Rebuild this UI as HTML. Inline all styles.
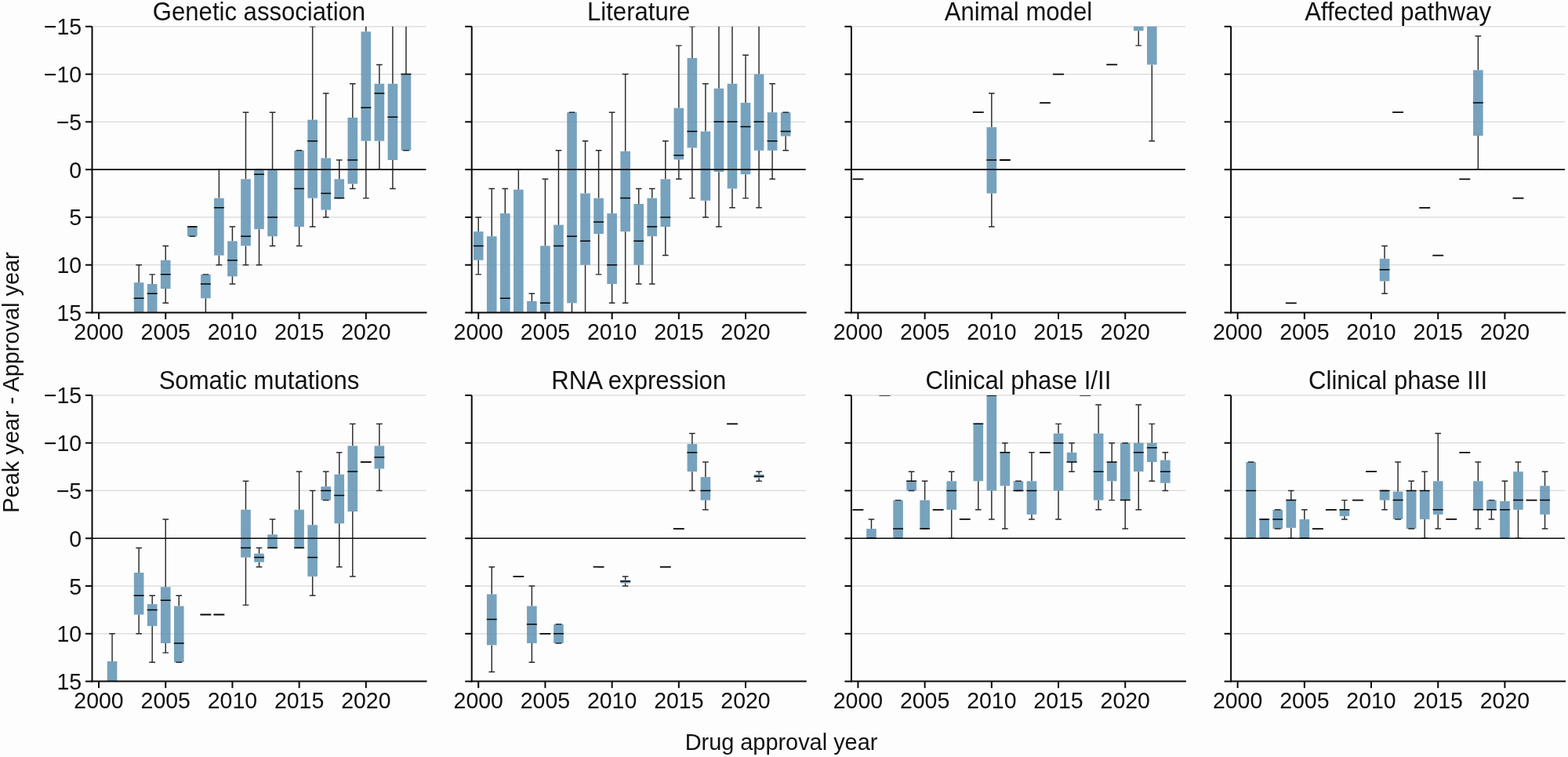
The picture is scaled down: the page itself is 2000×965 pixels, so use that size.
<!DOCTYPE html><html><head><meta charset="utf-8"><title>Peak year vs approval year</title>
<style>html,body{margin:0;padding:0;background:#fdfdfd;}svg{display:block;}text{font-family:'Liberation Sans', Arial, Helvetica, sans-serif;fill:#111111;}</style></head><body>
<svg width="2000" height="965" viewBox="0 0 2000 965">
<rect x="0" y="0" width="2000" height="965" fill="#fdfdfd"/>
<defs><clipPath id="c0"><rect x="117.5" y="33.8" width="426" height="364.7"/></clipPath><clipPath id="c1"><rect x="601.7" y="33.8" width="426" height="364.7"/></clipPath><clipPath id="c2"><rect x="1085.9" y="33.8" width="426" height="364.7"/></clipPath><clipPath id="c3"><rect x="1570.1" y="33.8" width="426" height="364.7"/></clipPath><clipPath id="c4"><rect x="117.5" y="503.9" width="426" height="364.7"/></clipPath><clipPath id="c5"><rect x="601.7" y="503.9" width="426" height="364.7"/></clipPath><clipPath id="c6"><rect x="1085.9" y="503.9" width="426" height="364.7"/></clipPath><clipPath id="c7"><rect x="1570.1" y="503.9" width="426" height="364.7"/></clipPath></defs>
<g><line x1="117.5" y1="33.8" x2="543.5" y2="33.8" stroke="#d9d9d9" stroke-width="1.3"/><line x1="117.5" y1="94.58" x2="543.5" y2="94.58" stroke="#d9d9d9" stroke-width="1.3"/><line x1="117.5" y1="155.37" x2="543.5" y2="155.37" stroke="#d9d9d9" stroke-width="1.3"/><line x1="117.5" y1="276.93" x2="543.5" y2="276.93" stroke="#d9d9d9" stroke-width="1.3"/><line x1="117.5" y1="337.72" x2="543.5" y2="337.72" stroke="#d9d9d9" stroke-width="1.3"/><g clip-path="url(#c0)"><line x1="177.14" y1="337.72" x2="177.14" y2="360.21" stroke="#2a2a2a" stroke-width="1.45"/><rect x="170.84" y="360.21" width="12.6" height="50.45" fill="#5e92b3" fill-opacity="0.85"/><line x1="174.04" y1="337.72" x2="180.24" y2="337.72" stroke="#2a2a2a" stroke-width="1.45" stroke-linecap="square"/><line x1="174.04" y1="410.66" x2="180.24" y2="410.66" stroke="#2a2a2a" stroke-width="1.45" stroke-linecap="square"/><line x1="170.64" y1="380.26" x2="183.64" y2="380.26" stroke="#050505" stroke-width="1.5"/><line x1="194.18" y1="349.87" x2="194.18" y2="362.03" stroke="#2a2a2a" stroke-width="1.45"/><rect x="187.88" y="362.03" width="12.6" height="48.63" fill="#5e92b3" fill-opacity="0.85"/><line x1="191.08" y1="349.87" x2="197.28" y2="349.87" stroke="#2a2a2a" stroke-width="1.45" stroke-linecap="square"/><line x1="191.08" y1="410.66" x2="197.28" y2="410.66" stroke="#2a2a2a" stroke-width="1.45" stroke-linecap="square"/><line x1="187.68" y1="374.19" x2="200.68" y2="374.19" stroke="#050505" stroke-width="1.5"/><line x1="211.22" y1="313.4" x2="211.22" y2="331.64" stroke="#2a2a2a" stroke-width="1.45"/><line x1="211.22" y1="368.11" x2="211.22" y2="386.34" stroke="#2a2a2a" stroke-width="1.45"/><rect x="204.92" y="331.64" width="12.6" height="36.47" fill="#5e92b3" fill-opacity="0.85"/><line x1="208.12" y1="313.4" x2="214.32" y2="313.4" stroke="#2a2a2a" stroke-width="1.45" stroke-linecap="square"/><line x1="208.12" y1="386.34" x2="214.32" y2="386.34" stroke="#2a2a2a" stroke-width="1.45" stroke-linecap="square"/><line x1="204.72" y1="349.87" x2="217.72" y2="349.87" stroke="#050505" stroke-width="1.5"/><rect x="239" y="289.09" width="12.6" height="12.16" fill="#5e92b3" fill-opacity="0.85"/><line x1="242.2" y1="289.09" x2="248.4" y2="289.09" stroke="#2a2a2a" stroke-width="1.45" stroke-linecap="square"/><line x1="242.2" y1="301.25" x2="248.4" y2="301.25" stroke="#2a2a2a" stroke-width="1.45" stroke-linecap="square"/><line x1="238.8" y1="289.09" x2="251.8" y2="289.09" stroke="#050505" stroke-width="1.5"/><line x1="262.34" y1="380.26" x2="262.34" y2="410.66" stroke="#2a2a2a" stroke-width="1.45"/><rect x="256.04" y="349.87" width="12.6" height="30.39" fill="#5e92b3" fill-opacity="0.85"/><line x1="259.24" y1="349.87" x2="265.44" y2="349.87" stroke="#2a2a2a" stroke-width="1.45" stroke-linecap="square"/><line x1="259.24" y1="410.66" x2="265.44" y2="410.66" stroke="#2a2a2a" stroke-width="1.45" stroke-linecap="square"/><line x1="255.84" y1="362.03" x2="268.84" y2="362.03" stroke="#050505" stroke-width="1.5"/><line x1="279.38" y1="216.15" x2="279.38" y2="252.62" stroke="#2a2a2a" stroke-width="1.45"/><line x1="279.38" y1="325.56" x2="279.38" y2="337.72" stroke="#2a2a2a" stroke-width="1.45"/><rect x="273.08" y="252.62" width="12.6" height="72.94" fill="#5e92b3" fill-opacity="0.85"/><line x1="276.28" y1="216.15" x2="282.48" y2="216.15" stroke="#2a2a2a" stroke-width="1.45" stroke-linecap="square"/><line x1="276.28" y1="337.72" x2="282.48" y2="337.72" stroke="#2a2a2a" stroke-width="1.45" stroke-linecap="square"/><line x1="272.88" y1="264.78" x2="285.88" y2="264.78" stroke="#050505" stroke-width="1.5"/><line x1="296.42" y1="289.09" x2="296.42" y2="307.32" stroke="#2a2a2a" stroke-width="1.45"/><line x1="296.42" y1="352.3" x2="296.42" y2="362.03" stroke="#2a2a2a" stroke-width="1.45"/><rect x="290.12" y="307.32" width="12.6" height="44.98" fill="#5e92b3" fill-opacity="0.85"/><line x1="293.32" y1="289.09" x2="299.52" y2="289.09" stroke="#2a2a2a" stroke-width="1.45" stroke-linecap="square"/><line x1="293.32" y1="362.03" x2="299.52" y2="362.03" stroke="#2a2a2a" stroke-width="1.45" stroke-linecap="square"/><line x1="289.92" y1="331.64" x2="302.92" y2="331.64" stroke="#050505" stroke-width="1.5"/><line x1="313.46" y1="143.21" x2="313.46" y2="228.31" stroke="#2a2a2a" stroke-width="1.45"/><line x1="313.46" y1="313.4" x2="313.46" y2="337.72" stroke="#2a2a2a" stroke-width="1.45"/><rect x="307.16" y="228.31" width="12.6" height="85.1" fill="#5e92b3" fill-opacity="0.85"/><line x1="310.36" y1="143.21" x2="316.56" y2="143.21" stroke="#2a2a2a" stroke-width="1.45" stroke-linecap="square"/><line x1="310.36" y1="337.72" x2="316.56" y2="337.72" stroke="#2a2a2a" stroke-width="1.45" stroke-linecap="square"/><line x1="306.96" y1="301.25" x2="319.96" y2="301.25" stroke="#050505" stroke-width="1.5"/><line x1="330.5" y1="292.13" x2="330.5" y2="337.72" stroke="#2a2a2a" stroke-width="1.45"/><rect x="324.2" y="216.15" width="12.6" height="75.98" fill="#5e92b3" fill-opacity="0.85"/><line x1="327.4" y1="216.15" x2="333.6" y2="216.15" stroke="#2a2a2a" stroke-width="1.45" stroke-linecap="square"/><line x1="327.4" y1="337.72" x2="333.6" y2="337.72" stroke="#2a2a2a" stroke-width="1.45" stroke-linecap="square"/><line x1="324" y1="222.23" x2="337" y2="222.23" stroke="#050505" stroke-width="1.5"/><line x1="347.54" y1="143.21" x2="347.54" y2="216.15" stroke="#2a2a2a" stroke-width="1.45"/><line x1="347.54" y1="301.25" x2="347.54" y2="313.4" stroke="#2a2a2a" stroke-width="1.45"/><rect x="341.24" y="216.15" width="12.6" height="85.1" fill="#5e92b3" fill-opacity="0.85"/><line x1="344.44" y1="143.21" x2="350.64" y2="143.21" stroke="#2a2a2a" stroke-width="1.45" stroke-linecap="square"/><line x1="344.44" y1="313.4" x2="350.64" y2="313.4" stroke="#2a2a2a" stroke-width="1.45" stroke-linecap="square"/><line x1="341.04" y1="276.93" x2="354.04" y2="276.93" stroke="#050505" stroke-width="1.5"/><line x1="381.62" y1="289.09" x2="381.62" y2="313.4" stroke="#2a2a2a" stroke-width="1.45"/><rect x="375.32" y="191.84" width="12.6" height="97.25" fill="#5e92b3" fill-opacity="0.85"/><line x1="378.52" y1="191.84" x2="384.72" y2="191.84" stroke="#2a2a2a" stroke-width="1.45" stroke-linecap="square"/><line x1="378.52" y1="313.4" x2="384.72" y2="313.4" stroke="#2a2a2a" stroke-width="1.45" stroke-linecap="square"/><line x1="375.12" y1="240.46" x2="388.12" y2="240.46" stroke="#050505" stroke-width="1.5"/><line x1="398.66" y1="33.8" x2="398.66" y2="152.69" stroke="#2a2a2a" stroke-width="1.45"/><line x1="398.66" y1="252.62" x2="398.66" y2="289.09" stroke="#2a2a2a" stroke-width="1.45"/><rect x="392.36" y="152.69" width="12.6" height="99.93" fill="#5e92b3" fill-opacity="0.85"/><line x1="395.56" y1="33.8" x2="401.76" y2="33.8" stroke="#2a2a2a" stroke-width="1.45" stroke-linecap="square"/><line x1="395.56" y1="289.09" x2="401.76" y2="289.09" stroke="#2a2a2a" stroke-width="1.45" stroke-linecap="square"/><line x1="392.16" y1="179.68" x2="405.16" y2="179.68" stroke="#050505" stroke-width="1.5"/><line x1="415.7" y1="118.9" x2="415.7" y2="201.56" stroke="#2a2a2a" stroke-width="1.45"/><line x1="415.7" y1="267.57" x2="415.7" y2="276.93" stroke="#2a2a2a" stroke-width="1.45"/><rect x="409.4" y="201.56" width="12.6" height="66.01" fill="#5e92b3" fill-opacity="0.85"/><line x1="412.6" y1="118.9" x2="418.8" y2="118.9" stroke="#2a2a2a" stroke-width="1.45" stroke-linecap="square"/><line x1="412.6" y1="276.93" x2="418.8" y2="276.93" stroke="#2a2a2a" stroke-width="1.45" stroke-linecap="square"/><line x1="409.2" y1="246.54" x2="422.2" y2="246.54" stroke="#050505" stroke-width="1.5"/><line x1="432.74" y1="203.99" x2="432.74" y2="228.31" stroke="#2a2a2a" stroke-width="1.45"/><rect x="426.44" y="228.31" width="12.6" height="24.31" fill="#5e92b3" fill-opacity="0.85"/><line x1="429.64" y1="203.99" x2="435.84" y2="203.99" stroke="#2a2a2a" stroke-width="1.45" stroke-linecap="square"/><line x1="429.64" y1="252.62" x2="435.84" y2="252.62" stroke="#2a2a2a" stroke-width="1.45" stroke-linecap="square"/><line x1="426.24" y1="252.62" x2="439.24" y2="252.62" stroke="#050505" stroke-width="1.5"/><line x1="449.78" y1="106.74" x2="449.78" y2="149.9" stroke="#2a2a2a" stroke-width="1.45"/><line x1="449.78" y1="234.38" x2="449.78" y2="240.46" stroke="#2a2a2a" stroke-width="1.45"/><rect x="443.48" y="149.9" width="12.6" height="84.49" fill="#5e92b3" fill-opacity="0.85"/><line x1="446.68" y1="106.74" x2="452.88" y2="106.74" stroke="#2a2a2a" stroke-width="1.45" stroke-linecap="square"/><line x1="446.68" y1="240.46" x2="452.88" y2="240.46" stroke="#2a2a2a" stroke-width="1.45" stroke-linecap="square"/><line x1="443.28" y1="203.99" x2="456.28" y2="203.99" stroke="#050505" stroke-width="1.5"/><line x1="466.82" y1="21.64" x2="466.82" y2="40.36" stroke="#2a2a2a" stroke-width="1.45"/><line x1="466.82" y1="179.68" x2="466.82" y2="252.62" stroke="#2a2a2a" stroke-width="1.45"/><rect x="460.52" y="40.36" width="12.6" height="139.32" fill="#5e92b3" fill-opacity="0.85"/><line x1="463.72" y1="21.64" x2="469.92" y2="21.64" stroke="#2a2a2a" stroke-width="1.45" stroke-linecap="square"/><line x1="463.72" y1="252.62" x2="469.92" y2="252.62" stroke="#2a2a2a" stroke-width="1.45" stroke-linecap="square"/><line x1="460.32" y1="137.13" x2="473.32" y2="137.13" stroke="#050505" stroke-width="1.5"/><line x1="483.86" y1="82.43" x2="483.86" y2="106.74" stroke="#2a2a2a" stroke-width="1.45"/><line x1="483.86" y1="179.68" x2="483.86" y2="216.15" stroke="#2a2a2a" stroke-width="1.45"/><rect x="477.56" y="106.74" width="12.6" height="72.94" fill="#5e92b3" fill-opacity="0.85"/><line x1="480.76" y1="82.43" x2="486.96" y2="82.43" stroke="#2a2a2a" stroke-width="1.45" stroke-linecap="square"/><line x1="480.76" y1="216.15" x2="486.96" y2="216.15" stroke="#2a2a2a" stroke-width="1.45" stroke-linecap="square"/><line x1="477.36" y1="118.9" x2="490.36" y2="118.9" stroke="#050505" stroke-width="1.5"/><line x1="500.9" y1="21.64" x2="500.9" y2="106.74" stroke="#2a2a2a" stroke-width="1.45"/><line x1="500.9" y1="203.99" x2="500.9" y2="240.46" stroke="#2a2a2a" stroke-width="1.45"/><rect x="494.6" y="106.74" width="12.6" height="97.25" fill="#5e92b3" fill-opacity="0.85"/><line x1="497.8" y1="21.64" x2="504" y2="21.64" stroke="#2a2a2a" stroke-width="1.45" stroke-linecap="square"/><line x1="497.8" y1="240.46" x2="504" y2="240.46" stroke="#2a2a2a" stroke-width="1.45" stroke-linecap="square"/><line x1="494.4" y1="149.29" x2="507.4" y2="149.29" stroke="#050505" stroke-width="1.5"/><line x1="517.94" y1="21.64" x2="517.94" y2="94.58" stroke="#2a2a2a" stroke-width="1.45"/><rect x="511.64" y="94.58" width="12.6" height="97.25" fill="#5e92b3" fill-opacity="0.85"/><line x1="514.84" y1="21.64" x2="521.04" y2="21.64" stroke="#2a2a2a" stroke-width="1.45" stroke-linecap="square"/><line x1="514.84" y1="191.84" x2="521.04" y2="191.84" stroke="#2a2a2a" stroke-width="1.45" stroke-linecap="square"/><line x1="511.44" y1="94.58" x2="524.44" y2="94.58" stroke="#050505" stroke-width="1.5"/></g><line x1="117.5" y1="216.15" x2="543.5" y2="216.15" stroke="#080808" stroke-width="1.7"/><line x1="117.5" y1="33.8" x2="117.5" y2="399.5" stroke="#080808" stroke-width="2"/><line x1="116.5" y1="398.5" x2="544.5" y2="398.5" stroke="#080808" stroke-width="2"/><line x1="109" y1="33.8" x2="117.5" y2="33.8" stroke="#080808" stroke-width="2"/><text transform="translate(104.2 44.3) scale(1 1.04)" font-size="28.5" text-anchor="end">−15</text><line x1="109" y1="94.58" x2="117.5" y2="94.58" stroke="#080808" stroke-width="2"/><text transform="translate(104.2 105.08) scale(1 1.04)" font-size="28.5" text-anchor="end">−10</text><line x1="109" y1="155.37" x2="117.5" y2="155.37" stroke="#080808" stroke-width="2"/><text transform="translate(104.2 165.87) scale(1 1.04)" font-size="28.5" text-anchor="end">−5</text><line x1="109" y1="216.15" x2="117.5" y2="216.15" stroke="#080808" stroke-width="2"/><text transform="translate(104.2 226.65) scale(1 1.04)" font-size="28.5" text-anchor="end">0</text><line x1="109" y1="276.93" x2="117.5" y2="276.93" stroke="#080808" stroke-width="2"/><text transform="translate(104.2 287.43) scale(1 1.04)" font-size="28.5" text-anchor="end">5</text><line x1="109" y1="337.72" x2="117.5" y2="337.72" stroke="#080808" stroke-width="2"/><text transform="translate(104.2 348.22) scale(1 1.04)" font-size="28.5" text-anchor="end">10</text><line x1="109" y1="398.5" x2="117.5" y2="398.5" stroke="#080808" stroke-width="2"/><text transform="translate(104.2 409) scale(1 1.04)" font-size="28.5" text-anchor="end">15</text><line x1="126.02" y1="398.5" x2="126.02" y2="407" stroke="#080808" stroke-width="2"/><text transform="translate(126.02 433.1) scale(1 1.04)" font-size="28.5" text-anchor="middle">2000</text><line x1="211.22" y1="398.5" x2="211.22" y2="407" stroke="#080808" stroke-width="2"/><text transform="translate(211.22 433.1) scale(1 1.04)" font-size="28.5" text-anchor="middle">2005</text><line x1="296.42" y1="398.5" x2="296.42" y2="407" stroke="#080808" stroke-width="2"/><text transform="translate(296.42 433.1) scale(1 1.04)" font-size="28.5" text-anchor="middle">2010</text><line x1="381.62" y1="398.5" x2="381.62" y2="407" stroke="#080808" stroke-width="2"/><text transform="translate(381.62 433.1) scale(1 1.04)" font-size="28.5" text-anchor="middle">2015</text><line x1="466.82" y1="398.5" x2="466.82" y2="407" stroke="#080808" stroke-width="2"/><text transform="translate(466.82 433.1) scale(1 1.04)" font-size="28.5" text-anchor="middle">2020</text><text transform="translate(330.5 25.9) scale(1 1.04)" font-size="31.1" text-anchor="middle">Genetic association</text></g>
<g><line x1="601.7" y1="33.8" x2="1027.7" y2="33.8" stroke="#d9d9d9" stroke-width="1.3"/><line x1="601.7" y1="94.58" x2="1027.7" y2="94.58" stroke="#d9d9d9" stroke-width="1.3"/><line x1="601.7" y1="155.37" x2="1027.7" y2="155.37" stroke="#d9d9d9" stroke-width="1.3"/><line x1="601.7" y1="276.93" x2="1027.7" y2="276.93" stroke="#d9d9d9" stroke-width="1.3"/><line x1="601.7" y1="337.72" x2="1027.7" y2="337.72" stroke="#d9d9d9" stroke-width="1.3"/><g clip-path="url(#c1)"><line x1="610.22" y1="276.93" x2="610.22" y2="295.17" stroke="#2a2a2a" stroke-width="1.45"/><line x1="610.22" y1="331.64" x2="610.22" y2="349.87" stroke="#2a2a2a" stroke-width="1.45"/><rect x="603.92" y="295.17" width="12.6" height="36.47" fill="#5e92b3" fill-opacity="0.85"/><line x1="607.12" y1="276.93" x2="613.32" y2="276.93" stroke="#2a2a2a" stroke-width="1.45" stroke-linecap="square"/><line x1="607.12" y1="349.87" x2="613.32" y2="349.87" stroke="#2a2a2a" stroke-width="1.45" stroke-linecap="square"/><line x1="603.72" y1="313.4" x2="616.72" y2="313.4" stroke="#050505" stroke-width="1.5"/><line x1="627.26" y1="240.46" x2="627.26" y2="301.25" stroke="#2a2a2a" stroke-width="1.45"/><rect x="620.96" y="301.25" width="12.6" height="109.41" fill="#5e92b3" fill-opacity="0.85"/><line x1="624.16" y1="240.46" x2="630.36" y2="240.46" stroke="#2a2a2a" stroke-width="1.45" stroke-linecap="square"/><line x1="624.16" y1="410.66" x2="630.36" y2="410.66" stroke="#2a2a2a" stroke-width="1.45" stroke-linecap="square"/><line x1="620.76" y1="410.66" x2="633.76" y2="410.66" stroke="#050505" stroke-width="1.5"/><line x1="644.3" y1="240.46" x2="644.3" y2="272.07" stroke="#2a2a2a" stroke-width="1.45"/><rect x="638" y="272.07" width="12.6" height="138.59" fill="#5e92b3" fill-opacity="0.85"/><line x1="641.2" y1="240.46" x2="647.4" y2="240.46" stroke="#2a2a2a" stroke-width="1.45" stroke-linecap="square"/><line x1="641.2" y1="410.66" x2="647.4" y2="410.66" stroke="#2a2a2a" stroke-width="1.45" stroke-linecap="square"/><line x1="637.8" y1="380.26" x2="650.8" y2="380.26" stroke="#050505" stroke-width="1.5"/><line x1="661.34" y1="216.15" x2="661.34" y2="241.68" stroke="#2a2a2a" stroke-width="1.45"/><rect x="655.04" y="241.68" width="12.6" height="168.98" fill="#5e92b3" fill-opacity="0.85"/><line x1="658.24" y1="216.15" x2="664.44" y2="216.15" stroke="#2a2a2a" stroke-width="1.45" stroke-linecap="square"/><line x1="658.24" y1="410.66" x2="664.44" y2="410.66" stroke="#2a2a2a" stroke-width="1.45" stroke-linecap="square"/><line x1="654.84" y1="410.66" x2="667.84" y2="410.66" stroke="#050505" stroke-width="1.5"/><line x1="678.38" y1="374.19" x2="678.38" y2="383.91" stroke="#2a2a2a" stroke-width="1.45"/><rect x="672.08" y="383.91" width="12.6" height="26.74" fill="#5e92b3" fill-opacity="0.85"/><line x1="675.28" y1="374.19" x2="681.48" y2="374.19" stroke="#2a2a2a" stroke-width="1.45" stroke-linecap="square"/><line x1="675.28" y1="410.66" x2="681.48" y2="410.66" stroke="#2a2a2a" stroke-width="1.45" stroke-linecap="square"/><line x1="671.88" y1="410.66" x2="684.88" y2="410.66" stroke="#050505" stroke-width="1.5"/><line x1="695.42" y1="228.31" x2="695.42" y2="313.4" stroke="#2a2a2a" stroke-width="1.45"/><rect x="689.12" y="313.4" width="12.6" height="97.25" fill="#5e92b3" fill-opacity="0.85"/><line x1="692.32" y1="228.31" x2="698.52" y2="228.31" stroke="#2a2a2a" stroke-width="1.45" stroke-linecap="square"/><line x1="692.32" y1="410.66" x2="698.52" y2="410.66" stroke="#2a2a2a" stroke-width="1.45" stroke-linecap="square"/><line x1="688.92" y1="386.34" x2="701.92" y2="386.34" stroke="#050505" stroke-width="1.5"/><line x1="712.46" y1="191.84" x2="712.46" y2="286.66" stroke="#2a2a2a" stroke-width="1.45"/><rect x="706.16" y="286.66" width="12.6" height="124" fill="#5e92b3" fill-opacity="0.85"/><line x1="709.36" y1="191.84" x2="715.56" y2="191.84" stroke="#2a2a2a" stroke-width="1.45" stroke-linecap="square"/><line x1="709.36" y1="410.66" x2="715.56" y2="410.66" stroke="#2a2a2a" stroke-width="1.45" stroke-linecap="square"/><line x1="705.96" y1="313.4" x2="718.96" y2="313.4" stroke="#050505" stroke-width="1.5"/><line x1="729.5" y1="386.34" x2="729.5" y2="410.66" stroke="#2a2a2a" stroke-width="1.45"/><rect x="723.2" y="143.21" width="12.6" height="243.13" fill="#5e92b3" fill-opacity="0.85"/><line x1="726.4" y1="143.21" x2="732.6" y2="143.21" stroke="#2a2a2a" stroke-width="1.45" stroke-linecap="square"/><line x1="726.4" y1="410.66" x2="732.6" y2="410.66" stroke="#2a2a2a" stroke-width="1.45" stroke-linecap="square"/><line x1="723" y1="301.25" x2="736" y2="301.25" stroke="#050505" stroke-width="1.5"/><line x1="746.54" y1="179.68" x2="746.54" y2="246.54" stroke="#2a2a2a" stroke-width="1.45"/><line x1="746.54" y1="337.72" x2="746.54" y2="410.66" stroke="#2a2a2a" stroke-width="1.45"/><rect x="740.24" y="246.54" width="12.6" height="91.18" fill="#5e92b3" fill-opacity="0.85"/><line x1="743.44" y1="179.68" x2="749.64" y2="179.68" stroke="#2a2a2a" stroke-width="1.45" stroke-linecap="square"/><line x1="743.44" y1="410.66" x2="749.64" y2="410.66" stroke="#2a2a2a" stroke-width="1.45" stroke-linecap="square"/><line x1="740.04" y1="307.32" x2="753.04" y2="307.32" stroke="#050505" stroke-width="1.5"/><line x1="763.58" y1="191.84" x2="763.58" y2="252.62" stroke="#2a2a2a" stroke-width="1.45"/><line x1="763.58" y1="298.21" x2="763.58" y2="349.87" stroke="#2a2a2a" stroke-width="1.45"/><rect x="757.28" y="252.62" width="12.6" height="45.59" fill="#5e92b3" fill-opacity="0.85"/><line x1="760.48" y1="191.84" x2="766.68" y2="191.84" stroke="#2a2a2a" stroke-width="1.45" stroke-linecap="square"/><line x1="760.48" y1="349.87" x2="766.68" y2="349.87" stroke="#2a2a2a" stroke-width="1.45" stroke-linecap="square"/><line x1="757.08" y1="283.01" x2="770.08" y2="283.01" stroke="#050505" stroke-width="1.5"/><line x1="780.62" y1="143.21" x2="780.62" y2="272.07" stroke="#2a2a2a" stroke-width="1.45"/><line x1="780.62" y1="362.03" x2="780.62" y2="386.34" stroke="#2a2a2a" stroke-width="1.45"/><rect x="774.32" y="272.07" width="12.6" height="89.96" fill="#5e92b3" fill-opacity="0.85"/><line x1="777.52" y1="143.21" x2="783.72" y2="143.21" stroke="#2a2a2a" stroke-width="1.45" stroke-linecap="square"/><line x1="777.52" y1="386.34" x2="783.72" y2="386.34" stroke="#2a2a2a" stroke-width="1.45" stroke-linecap="square"/><line x1="774.12" y1="337.72" x2="787.12" y2="337.72" stroke="#050505" stroke-width="1.5"/><line x1="797.66" y1="94.58" x2="797.66" y2="192.81" stroke="#2a2a2a" stroke-width="1.45"/><line x1="797.66" y1="295.17" x2="797.66" y2="386.34" stroke="#2a2a2a" stroke-width="1.45"/><rect x="791.36" y="192.81" width="12.6" height="102.36" fill="#5e92b3" fill-opacity="0.85"/><line x1="794.56" y1="94.58" x2="800.76" y2="94.58" stroke="#2a2a2a" stroke-width="1.45" stroke-linecap="square"/><line x1="794.56" y1="386.34" x2="800.76" y2="386.34" stroke="#2a2a2a" stroke-width="1.45" stroke-linecap="square"/><line x1="791.16" y1="252.62" x2="804.16" y2="252.62" stroke="#050505" stroke-width="1.5"/><line x1="814.7" y1="240.46" x2="814.7" y2="259.91" stroke="#2a2a2a" stroke-width="1.45"/><line x1="814.7" y1="337.72" x2="814.7" y2="362.03" stroke="#2a2a2a" stroke-width="1.45"/><rect x="808.4" y="259.91" width="12.6" height="77.8" fill="#5e92b3" fill-opacity="0.85"/><line x1="811.6" y1="240.46" x2="817.8" y2="240.46" stroke="#2a2a2a" stroke-width="1.45" stroke-linecap="square"/><line x1="811.6" y1="362.03" x2="817.8" y2="362.03" stroke="#2a2a2a" stroke-width="1.45" stroke-linecap="square"/><line x1="808.2" y1="307.32" x2="821.2" y2="307.32" stroke="#050505" stroke-width="1.5"/><line x1="831.74" y1="240.46" x2="831.74" y2="252.62" stroke="#2a2a2a" stroke-width="1.45"/><line x1="831.74" y1="301.25" x2="831.74" y2="362.03" stroke="#2a2a2a" stroke-width="1.45"/><rect x="825.44" y="252.62" width="12.6" height="48.63" fill="#5e92b3" fill-opacity="0.85"/><line x1="828.64" y1="240.46" x2="834.84" y2="240.46" stroke="#2a2a2a" stroke-width="1.45" stroke-linecap="square"/><line x1="828.64" y1="362.03" x2="834.84" y2="362.03" stroke="#2a2a2a" stroke-width="1.45" stroke-linecap="square"/><line x1="825.24" y1="289.09" x2="838.24" y2="289.09" stroke="#050505" stroke-width="1.5"/><line x1="848.78" y1="179.68" x2="848.78" y2="228.31" stroke="#2a2a2a" stroke-width="1.45"/><line x1="848.78" y1="289.09" x2="848.78" y2="325.56" stroke="#2a2a2a" stroke-width="1.45"/><rect x="842.48" y="228.31" width="12.6" height="60.78" fill="#5e92b3" fill-opacity="0.85"/><line x1="845.68" y1="179.68" x2="851.88" y2="179.68" stroke="#2a2a2a" stroke-width="1.45" stroke-linecap="square"/><line x1="845.68" y1="325.56" x2="851.88" y2="325.56" stroke="#2a2a2a" stroke-width="1.45" stroke-linecap="square"/><line x1="842.28" y1="276.93" x2="855.28" y2="276.93" stroke="#050505" stroke-width="1.5"/><line x1="865.82" y1="58.11" x2="865.82" y2="137.74" stroke="#2a2a2a" stroke-width="1.45"/><line x1="865.82" y1="203.39" x2="865.82" y2="228.31" stroke="#2a2a2a" stroke-width="1.45"/><rect x="859.52" y="137.74" width="12.6" height="65.65" fill="#5e92b3" fill-opacity="0.85"/><line x1="862.72" y1="58.11" x2="868.92" y2="58.11" stroke="#2a2a2a" stroke-width="1.45" stroke-linecap="square"/><line x1="862.72" y1="228.31" x2="868.92" y2="228.31" stroke="#2a2a2a" stroke-width="1.45" stroke-linecap="square"/><line x1="859.32" y1="197.91" x2="872.32" y2="197.91" stroke="#050505" stroke-width="1.5"/><line x1="882.86" y1="33.8" x2="882.86" y2="73.92" stroke="#2a2a2a" stroke-width="1.45"/><line x1="882.86" y1="188.43" x2="882.86" y2="252.62" stroke="#2a2a2a" stroke-width="1.45"/><rect x="876.56" y="73.92" width="12.6" height="114.52" fill="#5e92b3" fill-opacity="0.85"/><line x1="879.76" y1="33.8" x2="885.96" y2="33.8" stroke="#2a2a2a" stroke-width="1.45" stroke-linecap="square"/><line x1="879.76" y1="252.62" x2="885.96" y2="252.62" stroke="#2a2a2a" stroke-width="1.45" stroke-linecap="square"/><line x1="876.36" y1="167.52" x2="889.36" y2="167.52" stroke="#050505" stroke-width="1.5"/><line x1="899.9" y1="106.74" x2="899.9" y2="167.52" stroke="#2a2a2a" stroke-width="1.45"/><line x1="899.9" y1="255.66" x2="899.9" y2="276.93" stroke="#2a2a2a" stroke-width="1.45"/><rect x="893.6" y="167.52" width="12.6" height="88.14" fill="#5e92b3" fill-opacity="0.85"/><line x1="896.8" y1="106.74" x2="903" y2="106.74" stroke="#2a2a2a" stroke-width="1.45" stroke-linecap="square"/><line x1="896.8" y1="276.93" x2="903" y2="276.93" stroke="#2a2a2a" stroke-width="1.45" stroke-linecap="square"/><line x1="893.4" y1="216.15" x2="906.4" y2="216.15" stroke="#050505" stroke-width="1.5"/><line x1="916.94" y1="21.64" x2="916.94" y2="112.82" stroke="#2a2a2a" stroke-width="1.45"/><line x1="916.94" y1="219.19" x2="916.94" y2="289.09" stroke="#2a2a2a" stroke-width="1.45"/><rect x="910.64" y="112.82" width="12.6" height="106.37" fill="#5e92b3" fill-opacity="0.85"/><line x1="913.84" y1="21.64" x2="920.04" y2="21.64" stroke="#2a2a2a" stroke-width="1.45" stroke-linecap="square"/><line x1="913.84" y1="289.09" x2="920.04" y2="289.09" stroke="#2a2a2a" stroke-width="1.45" stroke-linecap="square"/><line x1="910.44" y1="155.37" x2="923.44" y2="155.37" stroke="#050505" stroke-width="1.5"/><line x1="933.98" y1="21.64" x2="933.98" y2="106.74" stroke="#2a2a2a" stroke-width="1.45"/><line x1="933.98" y1="240.46" x2="933.98" y2="264.78" stroke="#2a2a2a" stroke-width="1.45"/><rect x="927.68" y="106.74" width="12.6" height="133.72" fill="#5e92b3" fill-opacity="0.85"/><line x1="930.88" y1="21.64" x2="937.08" y2="21.64" stroke="#2a2a2a" stroke-width="1.45" stroke-linecap="square"/><line x1="930.88" y1="264.78" x2="937.08" y2="264.78" stroke="#2a2a2a" stroke-width="1.45" stroke-linecap="square"/><line x1="927.48" y1="155.37" x2="940.48" y2="155.37" stroke="#050505" stroke-width="1.5"/><line x1="951.02" y1="70.27" x2="951.02" y2="131.05" stroke="#2a2a2a" stroke-width="1.45"/><line x1="951.02" y1="222.23" x2="951.02" y2="252.62" stroke="#2a2a2a" stroke-width="1.45"/><rect x="944.72" y="131.05" width="12.6" height="91.17" fill="#5e92b3" fill-opacity="0.85"/><line x1="947.92" y1="70.27" x2="954.12" y2="70.27" stroke="#2a2a2a" stroke-width="1.45" stroke-linecap="square"/><line x1="947.92" y1="252.62" x2="954.12" y2="252.62" stroke="#2a2a2a" stroke-width="1.45" stroke-linecap="square"/><line x1="944.52" y1="161.44" x2="957.52" y2="161.44" stroke="#050505" stroke-width="1.5"/><line x1="968.06" y1="21.64" x2="968.06" y2="94.58" stroke="#2a2a2a" stroke-width="1.45"/><line x1="968.06" y1="191.84" x2="968.06" y2="264.78" stroke="#2a2a2a" stroke-width="1.45"/><rect x="961.76" y="94.58" width="12.6" height="97.25" fill="#5e92b3" fill-opacity="0.85"/><line x1="964.96" y1="21.64" x2="971.16" y2="21.64" stroke="#2a2a2a" stroke-width="1.45" stroke-linecap="square"/><line x1="964.96" y1="264.78" x2="971.16" y2="264.78" stroke="#2a2a2a" stroke-width="1.45" stroke-linecap="square"/><line x1="961.56" y1="155.37" x2="974.56" y2="155.37" stroke="#050505" stroke-width="1.5"/><line x1="985.1" y1="106.74" x2="985.1" y2="143.21" stroke="#2a2a2a" stroke-width="1.45"/><line x1="985.1" y1="191.84" x2="985.1" y2="228.31" stroke="#2a2a2a" stroke-width="1.45"/><rect x="978.8" y="143.21" width="12.6" height="48.63" fill="#5e92b3" fill-opacity="0.85"/><line x1="982" y1="106.74" x2="988.2" y2="106.74" stroke="#2a2a2a" stroke-width="1.45" stroke-linecap="square"/><line x1="982" y1="228.31" x2="988.2" y2="228.31" stroke="#2a2a2a" stroke-width="1.45" stroke-linecap="square"/><line x1="978.6" y1="179.68" x2="991.6" y2="179.68" stroke="#050505" stroke-width="1.5"/><line x1="1002.14" y1="173.6" x2="1002.14" y2="191.84" stroke="#2a2a2a" stroke-width="1.45"/><rect x="995.84" y="143.21" width="12.6" height="30.39" fill="#5e92b3" fill-opacity="0.85"/><line x1="999.04" y1="143.21" x2="1005.24" y2="143.21" stroke="#2a2a2a" stroke-width="1.45" stroke-linecap="square"/><line x1="999.04" y1="191.84" x2="1005.24" y2="191.84" stroke="#2a2a2a" stroke-width="1.45" stroke-linecap="square"/><line x1="995.64" y1="167.52" x2="1008.64" y2="167.52" stroke="#050505" stroke-width="1.5"/></g><line x1="601.7" y1="216.15" x2="1027.7" y2="216.15" stroke="#080808" stroke-width="1.7"/><line x1="601.7" y1="33.8" x2="601.7" y2="399.5" stroke="#080808" stroke-width="2"/><line x1="600.7" y1="398.5" x2="1028.7" y2="398.5" stroke="#080808" stroke-width="2"/><line x1="593.2" y1="33.8" x2="601.7" y2="33.8" stroke="#080808" stroke-width="2"/><line x1="593.2" y1="94.58" x2="601.7" y2="94.58" stroke="#080808" stroke-width="2"/><line x1="593.2" y1="155.37" x2="601.7" y2="155.37" stroke="#080808" stroke-width="2"/><line x1="593.2" y1="216.15" x2="601.7" y2="216.15" stroke="#080808" stroke-width="2"/><line x1="593.2" y1="276.93" x2="601.7" y2="276.93" stroke="#080808" stroke-width="2"/><line x1="593.2" y1="337.72" x2="601.7" y2="337.72" stroke="#080808" stroke-width="2"/><line x1="593.2" y1="398.5" x2="601.7" y2="398.5" stroke="#080808" stroke-width="2"/><line x1="610.22" y1="398.5" x2="610.22" y2="407" stroke="#080808" stroke-width="2"/><text transform="translate(610.22 433.1) scale(1 1.04)" font-size="28.5" text-anchor="middle">2000</text><line x1="695.42" y1="398.5" x2="695.42" y2="407" stroke="#080808" stroke-width="2"/><text transform="translate(695.42 433.1) scale(1 1.04)" font-size="28.5" text-anchor="middle">2005</text><line x1="780.62" y1="398.5" x2="780.62" y2="407" stroke="#080808" stroke-width="2"/><text transform="translate(780.62 433.1) scale(1 1.04)" font-size="28.5" text-anchor="middle">2010</text><line x1="865.82" y1="398.5" x2="865.82" y2="407" stroke="#080808" stroke-width="2"/><text transform="translate(865.82 433.1) scale(1 1.04)" font-size="28.5" text-anchor="middle">2015</text><line x1="951.02" y1="398.5" x2="951.02" y2="407" stroke="#080808" stroke-width="2"/><text transform="translate(951.02 433.1) scale(1 1.04)" font-size="28.5" text-anchor="middle">2020</text><text transform="translate(814.7 25.9) scale(1 1.04)" font-size="31.1" text-anchor="middle">Literature</text></g>
<g><line x1="1085.9" y1="33.8" x2="1511.9" y2="33.8" stroke="#d9d9d9" stroke-width="1.3"/><line x1="1085.9" y1="94.58" x2="1511.9" y2="94.58" stroke="#d9d9d9" stroke-width="1.3"/><line x1="1085.9" y1="155.37" x2="1511.9" y2="155.37" stroke="#d9d9d9" stroke-width="1.3"/><line x1="1085.9" y1="276.93" x2="1511.9" y2="276.93" stroke="#d9d9d9" stroke-width="1.3"/><line x1="1085.9" y1="337.72" x2="1511.9" y2="337.72" stroke="#d9d9d9" stroke-width="1.3"/><g clip-path="url(#c2)"><line x1="1087.47" y1="228.31" x2="1101.37" y2="228.31" stroke="#050505" stroke-width="1.8"/><line x1="1240.83" y1="143.21" x2="1254.73" y2="143.21" stroke="#050505" stroke-width="1.8"/><line x1="1264.82" y1="118.9" x2="1264.82" y2="162.17" stroke="#2a2a2a" stroke-width="1.45"/><line x1="1264.82" y1="246.54" x2="1264.82" y2="289.09" stroke="#2a2a2a" stroke-width="1.45"/><rect x="1258.52" y="162.17" width="12.6" height="84.37" fill="#5e92b3" fill-opacity="0.85"/><line x1="1261.72" y1="118.9" x2="1267.92" y2="118.9" stroke="#2a2a2a" stroke-width="1.45" stroke-linecap="square"/><line x1="1261.72" y1="289.09" x2="1267.92" y2="289.09" stroke="#2a2a2a" stroke-width="1.45" stroke-linecap="square"/><line x1="1258.32" y1="203.99" x2="1271.32" y2="203.99" stroke="#050505" stroke-width="1.5"/><line x1="1274.91" y1="203.99" x2="1288.81" y2="203.99" stroke="#050505" stroke-width="1.8"/><line x1="1326.03" y1="131.05" x2="1339.93" y2="131.05" stroke="#050505" stroke-width="1.8"/><line x1="1343.07" y1="94.58" x2="1356.97" y2="94.58" stroke="#050505" stroke-width="1.8"/><line x1="1411.23" y1="82.43" x2="1425.13" y2="82.43" stroke="#050505" stroke-width="1.8"/><line x1="1452.26" y1="39.27" x2="1452.26" y2="58.11" stroke="#2a2a2a" stroke-width="1.45"/><rect x="1445.96" y="21.64" width="12.6" height="17.63" fill="#5e92b3" fill-opacity="0.85"/><line x1="1449.16" y1="21.64" x2="1455.36" y2="21.64" stroke="#2a2a2a" stroke-width="1.45" stroke-linecap="square"/><line x1="1449.16" y1="58.11" x2="1455.36" y2="58.11" stroke="#2a2a2a" stroke-width="1.45" stroke-linecap="square"/><line x1="1445.76" y1="21.64" x2="1458.76" y2="21.64" stroke="#050505" stroke-width="1.5"/><line x1="1469.3" y1="82.43" x2="1469.3" y2="179.68" stroke="#2a2a2a" stroke-width="1.45"/><rect x="1463" y="21.64" width="12.6" height="60.78" fill="#5e92b3" fill-opacity="0.85"/><line x1="1466.2" y1="21.64" x2="1472.4" y2="21.64" stroke="#2a2a2a" stroke-width="1.45" stroke-linecap="square"/><line x1="1466.2" y1="179.68" x2="1472.4" y2="179.68" stroke="#2a2a2a" stroke-width="1.45" stroke-linecap="square"/><line x1="1462.8" y1="21.64" x2="1475.8" y2="21.64" stroke="#050505" stroke-width="1.5"/></g><line x1="1085.9" y1="216.15" x2="1511.9" y2="216.15" stroke="#080808" stroke-width="1.7"/><line x1="1085.9" y1="33.8" x2="1085.9" y2="399.5" stroke="#080808" stroke-width="2"/><line x1="1084.9" y1="398.5" x2="1512.9" y2="398.5" stroke="#080808" stroke-width="2"/><line x1="1077.4" y1="33.8" x2="1085.9" y2="33.8" stroke="#080808" stroke-width="2"/><line x1="1077.4" y1="94.58" x2="1085.9" y2="94.58" stroke="#080808" stroke-width="2"/><line x1="1077.4" y1="155.37" x2="1085.9" y2="155.37" stroke="#080808" stroke-width="2"/><line x1="1077.4" y1="216.15" x2="1085.9" y2="216.15" stroke="#080808" stroke-width="2"/><line x1="1077.4" y1="276.93" x2="1085.9" y2="276.93" stroke="#080808" stroke-width="2"/><line x1="1077.4" y1="337.72" x2="1085.9" y2="337.72" stroke="#080808" stroke-width="2"/><line x1="1077.4" y1="398.5" x2="1085.9" y2="398.5" stroke="#080808" stroke-width="2"/><line x1="1094.42" y1="398.5" x2="1094.42" y2="407" stroke="#080808" stroke-width="2"/><text transform="translate(1094.42 433.1) scale(1 1.04)" font-size="28.5" text-anchor="middle">2000</text><line x1="1179.62" y1="398.5" x2="1179.62" y2="407" stroke="#080808" stroke-width="2"/><text transform="translate(1179.62 433.1) scale(1 1.04)" font-size="28.5" text-anchor="middle">2005</text><line x1="1264.82" y1="398.5" x2="1264.82" y2="407" stroke="#080808" stroke-width="2"/><text transform="translate(1264.82 433.1) scale(1 1.04)" font-size="28.5" text-anchor="middle">2010</text><line x1="1350.02" y1="398.5" x2="1350.02" y2="407" stroke="#080808" stroke-width="2"/><text transform="translate(1350.02 433.1) scale(1 1.04)" font-size="28.5" text-anchor="middle">2015</text><line x1="1435.22" y1="398.5" x2="1435.22" y2="407" stroke="#080808" stroke-width="2"/><text transform="translate(1435.22 433.1) scale(1 1.04)" font-size="28.5" text-anchor="middle">2020</text><text transform="translate(1298.9 25.9) scale(1 1.04)" font-size="31.1" text-anchor="middle">Animal model</text></g>
<g><line x1="1570.1" y1="33.8" x2="1996.1" y2="33.8" stroke="#d9d9d9" stroke-width="1.3"/><line x1="1570.1" y1="94.58" x2="1996.1" y2="94.58" stroke="#d9d9d9" stroke-width="1.3"/><line x1="1570.1" y1="155.37" x2="1996.1" y2="155.37" stroke="#d9d9d9" stroke-width="1.3"/><line x1="1570.1" y1="276.93" x2="1996.1" y2="276.93" stroke="#d9d9d9" stroke-width="1.3"/><line x1="1570.1" y1="337.72" x2="1996.1" y2="337.72" stroke="#d9d9d9" stroke-width="1.3"/><g clip-path="url(#c3)"><line x1="1639.83" y1="386.34" x2="1653.73" y2="386.34" stroke="#050505" stroke-width="1.8"/><line x1="1766.06" y1="313.4" x2="1766.06" y2="329.81" stroke="#2a2a2a" stroke-width="1.45"/><line x1="1766.06" y1="358.38" x2="1766.06" y2="374.19" stroke="#2a2a2a" stroke-width="1.45"/><rect x="1759.76" y="329.81" width="12.6" height="28.57" fill="#5e92b3" fill-opacity="0.85"/><line x1="1762.96" y1="313.4" x2="1769.16" y2="313.4" stroke="#2a2a2a" stroke-width="1.45" stroke-linecap="square"/><line x1="1762.96" y1="374.19" x2="1769.16" y2="374.19" stroke="#2a2a2a" stroke-width="1.45" stroke-linecap="square"/><line x1="1759.56" y1="343.8" x2="1772.56" y2="343.8" stroke="#050505" stroke-width="1.5"/><line x1="1776.15" y1="143.21" x2="1790.05" y2="143.21" stroke="#050505" stroke-width="1.8"/><line x1="1810.23" y1="264.78" x2="1824.13" y2="264.78" stroke="#050505" stroke-width="1.8"/><line x1="1827.27" y1="325.56" x2="1841.17" y2="325.56" stroke="#050505" stroke-width="1.8"/><line x1="1861.35" y1="228.31" x2="1875.25" y2="228.31" stroke="#050505" stroke-width="1.8"/><line x1="1885.34" y1="45.96" x2="1885.34" y2="89.36" stroke="#2a2a2a" stroke-width="1.45"/><line x1="1885.34" y1="172.99" x2="1885.34" y2="216.15" stroke="#2a2a2a" stroke-width="1.45"/><rect x="1879.04" y="89.36" width="12.6" height="83.64" fill="#5e92b3" fill-opacity="0.85"/><line x1="1882.24" y1="45.96" x2="1888.44" y2="45.96" stroke="#2a2a2a" stroke-width="1.45" stroke-linecap="square"/><line x1="1882.24" y1="216.15" x2="1888.44" y2="216.15" stroke="#2a2a2a" stroke-width="1.45" stroke-linecap="square"/><line x1="1878.84" y1="131.05" x2="1891.84" y2="131.05" stroke="#050505" stroke-width="1.5"/><line x1="1929.51" y1="252.62" x2="1943.41" y2="252.62" stroke="#050505" stroke-width="1.8"/></g><line x1="1570.1" y1="216.15" x2="1996.1" y2="216.15" stroke="#080808" stroke-width="1.7"/><line x1="1570.1" y1="33.8" x2="1570.1" y2="399.5" stroke="#080808" stroke-width="2"/><line x1="1569.1" y1="398.5" x2="1997.1" y2="398.5" stroke="#080808" stroke-width="2"/><line x1="1561.6" y1="33.8" x2="1570.1" y2="33.8" stroke="#080808" stroke-width="2"/><line x1="1561.6" y1="94.58" x2="1570.1" y2="94.58" stroke="#080808" stroke-width="2"/><line x1="1561.6" y1="155.37" x2="1570.1" y2="155.37" stroke="#080808" stroke-width="2"/><line x1="1561.6" y1="216.15" x2="1570.1" y2="216.15" stroke="#080808" stroke-width="2"/><line x1="1561.6" y1="276.93" x2="1570.1" y2="276.93" stroke="#080808" stroke-width="2"/><line x1="1561.6" y1="337.72" x2="1570.1" y2="337.72" stroke="#080808" stroke-width="2"/><line x1="1561.6" y1="398.5" x2="1570.1" y2="398.5" stroke="#080808" stroke-width="2"/><line x1="1578.62" y1="398.5" x2="1578.62" y2="407" stroke="#080808" stroke-width="2"/><text transform="translate(1578.62 433.1) scale(1 1.04)" font-size="28.5" text-anchor="middle">2000</text><line x1="1663.82" y1="398.5" x2="1663.82" y2="407" stroke="#080808" stroke-width="2"/><text transform="translate(1663.82 433.1) scale(1 1.04)" font-size="28.5" text-anchor="middle">2005</text><line x1="1749.02" y1="398.5" x2="1749.02" y2="407" stroke="#080808" stroke-width="2"/><text transform="translate(1749.02 433.1) scale(1 1.04)" font-size="28.5" text-anchor="middle">2010</text><line x1="1834.22" y1="398.5" x2="1834.22" y2="407" stroke="#080808" stroke-width="2"/><text transform="translate(1834.22 433.1) scale(1 1.04)" font-size="28.5" text-anchor="middle">2015</text><line x1="1919.42" y1="398.5" x2="1919.42" y2="407" stroke="#080808" stroke-width="2"/><text transform="translate(1919.42 433.1) scale(1 1.04)" font-size="28.5" text-anchor="middle">2020</text><text transform="translate(1783.1 25.9) scale(1 1.04)" font-size="31.1" text-anchor="middle">Affected pathway</text></g>
<g><line x1="117.5" y1="503.9" x2="543.5" y2="503.9" stroke="#d9d9d9" stroke-width="1.3"/><line x1="117.5" y1="564.68" x2="543.5" y2="564.68" stroke="#d9d9d9" stroke-width="1.3"/><line x1="117.5" y1="625.47" x2="543.5" y2="625.47" stroke="#d9d9d9" stroke-width="1.3"/><line x1="117.5" y1="747.03" x2="543.5" y2="747.03" stroke="#d9d9d9" stroke-width="1.3"/><line x1="117.5" y1="807.82" x2="543.5" y2="807.82" stroke="#d9d9d9" stroke-width="1.3"/><g clip-path="url(#c4)"><line x1="143.06" y1="807.82" x2="143.06" y2="843.07" stroke="#2a2a2a" stroke-width="1.45"/><rect x="136.76" y="843.07" width="12.6" height="37.69" fill="#5e92b3" fill-opacity="0.85"/><line x1="139.96" y1="807.82" x2="146.16" y2="807.82" stroke="#2a2a2a" stroke-width="1.45" stroke-linecap="square"/><line x1="139.96" y1="880.76" x2="146.16" y2="880.76" stroke="#2a2a2a" stroke-width="1.45" stroke-linecap="square"/><line x1="136.56" y1="880.76" x2="149.56" y2="880.76" stroke="#050505" stroke-width="1.5"/><line x1="177.14" y1="698.41" x2="177.14" y2="730.01" stroke="#2a2a2a" stroke-width="1.45"/><line x1="177.14" y1="783.5" x2="177.14" y2="807.82" stroke="#2a2a2a" stroke-width="1.45"/><rect x="170.84" y="730.01" width="12.6" height="53.49" fill="#5e92b3" fill-opacity="0.85"/><line x1="174.04" y1="698.41" x2="180.24" y2="698.41" stroke="#2a2a2a" stroke-width="1.45" stroke-linecap="square"/><line x1="174.04" y1="807.82" x2="180.24" y2="807.82" stroke="#2a2a2a" stroke-width="1.45" stroke-linecap="square"/><line x1="170.64" y1="759.19" x2="183.64" y2="759.19" stroke="#050505" stroke-width="1.5"/><line x1="194.18" y1="759.19" x2="194.18" y2="770.13" stroke="#2a2a2a" stroke-width="1.45"/><line x1="194.18" y1="798.09" x2="194.18" y2="844.29" stroke="#2a2a2a" stroke-width="1.45"/><rect x="187.88" y="770.13" width="12.6" height="27.96" fill="#5e92b3" fill-opacity="0.85"/><line x1="191.08" y1="759.19" x2="197.28" y2="759.19" stroke="#2a2a2a" stroke-width="1.45" stroke-linecap="square"/><line x1="191.08" y1="844.29" x2="197.28" y2="844.29" stroke="#2a2a2a" stroke-width="1.45" stroke-linecap="square"/><line x1="187.68" y1="777.42" x2="200.68" y2="777.42" stroke="#050505" stroke-width="1.5"/><line x1="211.22" y1="661.94" x2="211.22" y2="748.25" stroke="#2a2a2a" stroke-width="1.45"/><line x1="211.22" y1="819.97" x2="211.22" y2="832.13" stroke="#2a2a2a" stroke-width="1.45"/><rect x="204.92" y="748.25" width="12.6" height="71.72" fill="#5e92b3" fill-opacity="0.85"/><line x1="208.12" y1="661.94" x2="214.32" y2="661.94" stroke="#2a2a2a" stroke-width="1.45" stroke-linecap="square"/><line x1="208.12" y1="832.13" x2="214.32" y2="832.13" stroke="#2a2a2a" stroke-width="1.45" stroke-linecap="square"/><line x1="204.72" y1="765.27" x2="217.72" y2="765.27" stroke="#050505" stroke-width="1.5"/><line x1="228.26" y1="759.19" x2="228.26" y2="772.56" stroke="#2a2a2a" stroke-width="1.45"/><rect x="221.96" y="772.56" width="12.6" height="71.72" fill="#5e92b3" fill-opacity="0.85"/><line x1="225.16" y1="759.19" x2="231.36" y2="759.19" stroke="#2a2a2a" stroke-width="1.45" stroke-linecap="square"/><line x1="225.16" y1="844.29" x2="231.36" y2="844.29" stroke="#2a2a2a" stroke-width="1.45" stroke-linecap="square"/><line x1="221.76" y1="819.97" x2="234.76" y2="819.97" stroke="#050505" stroke-width="1.5"/><line x1="255.39" y1="783.5" x2="269.29" y2="783.5" stroke="#050505" stroke-width="1.8"/><line x1="272.43" y1="783.5" x2="286.33" y2="783.5" stroke="#050505" stroke-width="1.8"/><line x1="313.46" y1="613.31" x2="313.46" y2="649.78" stroke="#2a2a2a" stroke-width="1.45"/><line x1="313.46" y1="710.56" x2="313.46" y2="771.35" stroke="#2a2a2a" stroke-width="1.45"/><rect x="307.16" y="649.78" width="12.6" height="60.78" fill="#5e92b3" fill-opacity="0.85"/><line x1="310.36" y1="613.31" x2="316.56" y2="613.31" stroke="#2a2a2a" stroke-width="1.45" stroke-linecap="square"/><line x1="310.36" y1="771.35" x2="316.56" y2="771.35" stroke="#2a2a2a" stroke-width="1.45" stroke-linecap="square"/><line x1="306.96" y1="698.41" x2="319.96" y2="698.41" stroke="#050505" stroke-width="1.5"/><line x1="330.5" y1="698.41" x2="330.5" y2="705.7" stroke="#2a2a2a" stroke-width="1.45"/><line x1="330.5" y1="716.64" x2="330.5" y2="722.72" stroke="#2a2a2a" stroke-width="1.45"/><rect x="324.2" y="705.7" width="12.6" height="10.94" fill="#5e92b3" fill-opacity="0.85"/><line x1="327.4" y1="698.41" x2="333.6" y2="698.41" stroke="#2a2a2a" stroke-width="1.45" stroke-linecap="square"/><line x1="327.4" y1="722.72" x2="333.6" y2="722.72" stroke="#2a2a2a" stroke-width="1.45" stroke-linecap="square"/><line x1="324" y1="710.56" x2="337" y2="710.56" stroke="#050505" stroke-width="1.5"/><line x1="347.54" y1="661.94" x2="347.54" y2="681.39" stroke="#2a2a2a" stroke-width="1.45"/><rect x="341.24" y="681.39" width="12.6" height="17.02" fill="#5e92b3" fill-opacity="0.85"/><line x1="344.44" y1="661.94" x2="350.64" y2="661.94" stroke="#2a2a2a" stroke-width="1.45" stroke-linecap="square"/><line x1="344.44" y1="698.41" x2="350.64" y2="698.41" stroke="#2a2a2a" stroke-width="1.45" stroke-linecap="square"/><line x1="341.04" y1="698.41" x2="354.04" y2="698.41" stroke="#050505" stroke-width="1.5"/><line x1="381.62" y1="601.15" x2="381.62" y2="649.78" stroke="#2a2a2a" stroke-width="1.45"/><rect x="375.32" y="649.78" width="12.6" height="48.63" fill="#5e92b3" fill-opacity="0.85"/><line x1="378.52" y1="601.15" x2="384.72" y2="601.15" stroke="#2a2a2a" stroke-width="1.45" stroke-linecap="square"/><line x1="378.52" y1="698.41" x2="384.72" y2="698.41" stroke="#2a2a2a" stroke-width="1.45" stroke-linecap="square"/><line x1="375.12" y1="698.41" x2="388.12" y2="698.41" stroke="#050505" stroke-width="1.5"/><line x1="398.66" y1="625.47" x2="398.66" y2="669.23" stroke="#2a2a2a" stroke-width="1.45"/><line x1="398.66" y1="734.88" x2="398.66" y2="759.19" stroke="#2a2a2a" stroke-width="1.45"/><rect x="392.36" y="669.23" width="12.6" height="65.65" fill="#5e92b3" fill-opacity="0.85"/><line x1="395.56" y1="625.47" x2="401.76" y2="625.47" stroke="#2a2a2a" stroke-width="1.45" stroke-linecap="square"/><line x1="395.56" y1="759.19" x2="401.76" y2="759.19" stroke="#2a2a2a" stroke-width="1.45" stroke-linecap="square"/><line x1="392.16" y1="710.56" x2="405.16" y2="710.56" stroke="#050505" stroke-width="1.5"/><line x1="415.7" y1="601.15" x2="415.7" y2="620.24" stroke="#2a2a2a" stroke-width="1.45"/><rect x="409.4" y="620.24" width="12.6" height="17.38" fill="#5e92b3" fill-opacity="0.85"/><line x1="412.6" y1="601.15" x2="418.8" y2="601.15" stroke="#2a2a2a" stroke-width="1.45" stroke-linecap="square"/><line x1="412.6" y1="637.62" x2="418.8" y2="637.62" stroke="#2a2a2a" stroke-width="1.45" stroke-linecap="square"/><line x1="409.2" y1="625.47" x2="422.2" y2="625.47" stroke="#050505" stroke-width="1.5"/><line x1="432.74" y1="576.84" x2="432.74" y2="604.8" stroke="#2a2a2a" stroke-width="1.45"/><line x1="432.74" y1="667.29" x2="432.74" y2="722.72" stroke="#2a2a2a" stroke-width="1.45"/><rect x="426.44" y="604.8" width="12.6" height="62.49" fill="#5e92b3" fill-opacity="0.85"/><line x1="429.64" y1="576.84" x2="435.84" y2="576.84" stroke="#2a2a2a" stroke-width="1.45" stroke-linecap="square"/><line x1="429.64" y1="722.72" x2="435.84" y2="722.72" stroke="#2a2a2a" stroke-width="1.45" stroke-linecap="square"/><line x1="426.24" y1="631.54" x2="439.24" y2="631.54" stroke="#050505" stroke-width="1.5"/><line x1="449.78" y1="540.37" x2="449.78" y2="568.33" stroke="#2a2a2a" stroke-width="1.45"/><line x1="449.78" y1="652.09" x2="449.78" y2="734.88" stroke="#2a2a2a" stroke-width="1.45"/><rect x="443.48" y="568.33" width="12.6" height="83.76" fill="#5e92b3" fill-opacity="0.85"/><line x1="446.68" y1="540.37" x2="452.88" y2="540.37" stroke="#2a2a2a" stroke-width="1.45" stroke-linecap="square"/><line x1="446.68" y1="734.88" x2="452.88" y2="734.88" stroke="#2a2a2a" stroke-width="1.45" stroke-linecap="square"/><line x1="443.28" y1="601.15" x2="456.28" y2="601.15" stroke="#050505" stroke-width="1.5"/><line x1="459.87" y1="589" x2="473.77" y2="589" stroke="#050505" stroke-width="1.8"/><line x1="483.86" y1="540.37" x2="483.86" y2="568.33" stroke="#2a2a2a" stroke-width="1.45"/><line x1="483.86" y1="597.51" x2="483.86" y2="625.47" stroke="#2a2a2a" stroke-width="1.45"/><rect x="477.56" y="568.33" width="12.6" height="29.18" fill="#5e92b3" fill-opacity="0.85"/><line x1="480.76" y1="540.37" x2="486.96" y2="540.37" stroke="#2a2a2a" stroke-width="1.45" stroke-linecap="square"/><line x1="480.76" y1="625.47" x2="486.96" y2="625.47" stroke="#2a2a2a" stroke-width="1.45" stroke-linecap="square"/><line x1="477.36" y1="582.92" x2="490.36" y2="582.92" stroke="#050505" stroke-width="1.5"/></g><line x1="117.5" y1="686.25" x2="543.5" y2="686.25" stroke="#080808" stroke-width="1.7"/><line x1="117.5" y1="503.9" x2="117.5" y2="869.6" stroke="#080808" stroke-width="2"/><line x1="116.5" y1="868.6" x2="544.5" y2="868.6" stroke="#080808" stroke-width="2"/><line x1="109" y1="503.9" x2="117.5" y2="503.9" stroke="#080808" stroke-width="2"/><text transform="translate(104.2 514.4) scale(1 1.04)" font-size="28.5" text-anchor="end">−15</text><line x1="109" y1="564.68" x2="117.5" y2="564.68" stroke="#080808" stroke-width="2"/><text transform="translate(104.2 575.18) scale(1 1.04)" font-size="28.5" text-anchor="end">−10</text><line x1="109" y1="625.47" x2="117.5" y2="625.47" stroke="#080808" stroke-width="2"/><text transform="translate(104.2 635.97) scale(1 1.04)" font-size="28.5" text-anchor="end">−5</text><line x1="109" y1="686.25" x2="117.5" y2="686.25" stroke="#080808" stroke-width="2"/><text transform="translate(104.2 696.75) scale(1 1.04)" font-size="28.5" text-anchor="end">0</text><line x1="109" y1="747.03" x2="117.5" y2="747.03" stroke="#080808" stroke-width="2"/><text transform="translate(104.2 757.53) scale(1 1.04)" font-size="28.5" text-anchor="end">5</text><line x1="109" y1="807.82" x2="117.5" y2="807.82" stroke="#080808" stroke-width="2"/><text transform="translate(104.2 818.32) scale(1 1.04)" font-size="28.5" text-anchor="end">10</text><line x1="109" y1="868.6" x2="117.5" y2="868.6" stroke="#080808" stroke-width="2"/><text transform="translate(104.2 879.1) scale(1 1.04)" font-size="28.5" text-anchor="end">15</text><line x1="126.02" y1="868.6" x2="126.02" y2="877.1" stroke="#080808" stroke-width="2"/><text transform="translate(126.02 903.2) scale(1 1.04)" font-size="28.5" text-anchor="middle">2000</text><line x1="211.22" y1="868.6" x2="211.22" y2="877.1" stroke="#080808" stroke-width="2"/><text transform="translate(211.22 903.2) scale(1 1.04)" font-size="28.5" text-anchor="middle">2005</text><line x1="296.42" y1="868.6" x2="296.42" y2="877.1" stroke="#080808" stroke-width="2"/><text transform="translate(296.42 903.2) scale(1 1.04)" font-size="28.5" text-anchor="middle">2010</text><line x1="381.62" y1="868.6" x2="381.62" y2="877.1" stroke="#080808" stroke-width="2"/><text transform="translate(381.62 903.2) scale(1 1.04)" font-size="28.5" text-anchor="middle">2015</text><line x1="466.82" y1="868.6" x2="466.82" y2="877.1" stroke="#080808" stroke-width="2"/><text transform="translate(466.82 903.2) scale(1 1.04)" font-size="28.5" text-anchor="middle">2020</text><text transform="translate(330.5 496) scale(1 1.04)" font-size="31.1" text-anchor="middle">Somatic mutations</text></g>
<g><line x1="601.7" y1="503.9" x2="1027.7" y2="503.9" stroke="#d9d9d9" stroke-width="1.3"/><line x1="601.7" y1="564.68" x2="1027.7" y2="564.68" stroke="#d9d9d9" stroke-width="1.3"/><line x1="601.7" y1="625.47" x2="1027.7" y2="625.47" stroke="#d9d9d9" stroke-width="1.3"/><line x1="601.7" y1="747.03" x2="1027.7" y2="747.03" stroke="#d9d9d9" stroke-width="1.3"/><line x1="601.7" y1="807.82" x2="1027.7" y2="807.82" stroke="#d9d9d9" stroke-width="1.3"/><g clip-path="url(#c5)"><line x1="627.26" y1="722.72" x2="627.26" y2="757.49" stroke="#2a2a2a" stroke-width="1.45"/><line x1="627.26" y1="822.4" x2="627.26" y2="856.44" stroke="#2a2a2a" stroke-width="1.45"/><rect x="620.96" y="757.49" width="12.6" height="64.92" fill="#5e92b3" fill-opacity="0.85"/><line x1="624.16" y1="722.72" x2="630.36" y2="722.72" stroke="#2a2a2a" stroke-width="1.45" stroke-linecap="square"/><line x1="624.16" y1="856.44" x2="630.36" y2="856.44" stroke="#2a2a2a" stroke-width="1.45" stroke-linecap="square"/><line x1="620.76" y1="789.58" x2="633.76" y2="789.58" stroke="#050505" stroke-width="1.5"/><line x1="654.39" y1="734.88" x2="668.29" y2="734.88" stroke="#050505" stroke-width="1.8"/><line x1="678.38" y1="747.03" x2="678.38" y2="772.56" stroke="#2a2a2a" stroke-width="1.45"/><line x1="678.38" y1="819.97" x2="678.38" y2="844.29" stroke="#2a2a2a" stroke-width="1.45"/><rect x="672.08" y="772.56" width="12.6" height="47.41" fill="#5e92b3" fill-opacity="0.85"/><line x1="675.28" y1="747.03" x2="681.48" y2="747.03" stroke="#2a2a2a" stroke-width="1.45" stroke-linecap="square"/><line x1="675.28" y1="844.29" x2="681.48" y2="844.29" stroke="#2a2a2a" stroke-width="1.45" stroke-linecap="square"/><line x1="671.88" y1="795.66" x2="684.88" y2="795.66" stroke="#050505" stroke-width="1.5"/><line x1="688.47" y1="807.82" x2="702.37" y2="807.82" stroke="#050505" stroke-width="1.8"/><rect x="706.16" y="795.66" width="12.6" height="24.31" fill="#5e92b3" fill-opacity="0.85"/><line x1="709.36" y1="795.66" x2="715.56" y2="795.66" stroke="#2a2a2a" stroke-width="1.45" stroke-linecap="square"/><line x1="709.36" y1="819.97" x2="715.56" y2="819.97" stroke="#2a2a2a" stroke-width="1.45" stroke-linecap="square"/><line x1="705.96" y1="807.82" x2="718.96" y2="807.82" stroke="#050505" stroke-width="1.5"/><line x1="756.63" y1="722.72" x2="770.53" y2="722.72" stroke="#050505" stroke-width="1.8"/><line x1="797.66" y1="734.88" x2="797.66" y2="739.5" stroke="#2a2a2a" stroke-width="1.45"/><line x1="797.66" y1="743.39" x2="797.66" y2="747.03" stroke="#2a2a2a" stroke-width="1.45"/><rect x="791.36" y="739.5" width="12.6" height="3.89" fill="#5e92b3" fill-opacity="0.85"/><line x1="794.56" y1="734.88" x2="800.76" y2="734.88" stroke="#2a2a2a" stroke-width="1.45" stroke-linecap="square"/><line x1="794.56" y1="747.03" x2="800.76" y2="747.03" stroke="#2a2a2a" stroke-width="1.45" stroke-linecap="square"/><line x1="791.16" y1="740.95" x2="804.16" y2="740.95" stroke="#050505" stroke-width="1.5"/><line x1="841.83" y1="722.72" x2="855.73" y2="722.72" stroke="#050505" stroke-width="1.8"/><line x1="858.87" y1="674.09" x2="872.77" y2="674.09" stroke="#050505" stroke-width="1.8"/><line x1="882.86" y1="552.53" x2="882.86" y2="565.9" stroke="#2a2a2a" stroke-width="1.45"/><line x1="882.86" y1="601.15" x2="882.86" y2="625.47" stroke="#2a2a2a" stroke-width="1.45"/><rect x="876.56" y="565.9" width="12.6" height="35.25" fill="#5e92b3" fill-opacity="0.85"/><line x1="879.76" y1="552.53" x2="885.96" y2="552.53" stroke="#2a2a2a" stroke-width="1.45" stroke-linecap="square"/><line x1="879.76" y1="625.47" x2="885.96" y2="625.47" stroke="#2a2a2a" stroke-width="1.45" stroke-linecap="square"/><line x1="876.36" y1="576.84" x2="889.36" y2="576.84" stroke="#050505" stroke-width="1.5"/><line x1="899.9" y1="589" x2="899.9" y2="608.08" stroke="#2a2a2a" stroke-width="1.45"/><line x1="899.9" y1="637.62" x2="899.9" y2="649.78" stroke="#2a2a2a" stroke-width="1.45"/><rect x="893.6" y="608.08" width="12.6" height="29.54" fill="#5e92b3" fill-opacity="0.85"/><line x1="896.8" y1="589" x2="903" y2="589" stroke="#2a2a2a" stroke-width="1.45" stroke-linecap="square"/><line x1="896.8" y1="649.78" x2="903" y2="649.78" stroke="#2a2a2a" stroke-width="1.45" stroke-linecap="square"/><line x1="893.4" y1="625.47" x2="906.4" y2="625.47" stroke="#050505" stroke-width="1.5"/><line x1="927.03" y1="540.37" x2="940.93" y2="540.37" stroke="#050505" stroke-width="1.8"/><line x1="968.06" y1="601.15" x2="968.06" y2="604.8" stroke="#2a2a2a" stroke-width="1.45"/><line x1="968.06" y1="609.18" x2="968.06" y2="613.31" stroke="#2a2a2a" stroke-width="1.45"/><rect x="961.76" y="604.8" width="12.6" height="4.38" fill="#5e92b3" fill-opacity="0.85"/><line x1="964.96" y1="601.15" x2="971.16" y2="601.15" stroke="#2a2a2a" stroke-width="1.45" stroke-linecap="square"/><line x1="964.96" y1="613.31" x2="971.16" y2="613.31" stroke="#2a2a2a" stroke-width="1.45" stroke-linecap="square"/><line x1="961.56" y1="607.23" x2="974.56" y2="607.23" stroke="#050505" stroke-width="1.5"/></g><line x1="601.7" y1="686.25" x2="1027.7" y2="686.25" stroke="#080808" stroke-width="1.7"/><line x1="601.7" y1="503.9" x2="601.7" y2="869.6" stroke="#080808" stroke-width="2"/><line x1="600.7" y1="868.6" x2="1028.7" y2="868.6" stroke="#080808" stroke-width="2"/><line x1="593.2" y1="503.9" x2="601.7" y2="503.9" stroke="#080808" stroke-width="2"/><line x1="593.2" y1="564.68" x2="601.7" y2="564.68" stroke="#080808" stroke-width="2"/><line x1="593.2" y1="625.47" x2="601.7" y2="625.47" stroke="#080808" stroke-width="2"/><line x1="593.2" y1="686.25" x2="601.7" y2="686.25" stroke="#080808" stroke-width="2"/><line x1="593.2" y1="747.03" x2="601.7" y2="747.03" stroke="#080808" stroke-width="2"/><line x1="593.2" y1="807.82" x2="601.7" y2="807.82" stroke="#080808" stroke-width="2"/><line x1="593.2" y1="868.6" x2="601.7" y2="868.6" stroke="#080808" stroke-width="2"/><line x1="610.22" y1="868.6" x2="610.22" y2="877.1" stroke="#080808" stroke-width="2"/><text transform="translate(610.22 903.2) scale(1 1.04)" font-size="28.5" text-anchor="middle">2000</text><line x1="695.42" y1="868.6" x2="695.42" y2="877.1" stroke="#080808" stroke-width="2"/><text transform="translate(695.42 903.2) scale(1 1.04)" font-size="28.5" text-anchor="middle">2005</text><line x1="780.62" y1="868.6" x2="780.62" y2="877.1" stroke="#080808" stroke-width="2"/><text transform="translate(780.62 903.2) scale(1 1.04)" font-size="28.5" text-anchor="middle">2010</text><line x1="865.82" y1="868.6" x2="865.82" y2="877.1" stroke="#080808" stroke-width="2"/><text transform="translate(865.82 903.2) scale(1 1.04)" font-size="28.5" text-anchor="middle">2015</text><line x1="951.02" y1="868.6" x2="951.02" y2="877.1" stroke="#080808" stroke-width="2"/><text transform="translate(951.02 903.2) scale(1 1.04)" font-size="28.5" text-anchor="middle">2020</text><text transform="translate(814.7 496) scale(1 1.04)" font-size="31.1" text-anchor="middle">RNA expression</text></g>
<g><line x1="1085.9" y1="503.9" x2="1511.9" y2="503.9" stroke="#d9d9d9" stroke-width="1.3"/><line x1="1085.9" y1="564.68" x2="1511.9" y2="564.68" stroke="#d9d9d9" stroke-width="1.3"/><line x1="1085.9" y1="625.47" x2="1511.9" y2="625.47" stroke="#d9d9d9" stroke-width="1.3"/><line x1="1085.9" y1="747.03" x2="1511.9" y2="747.03" stroke="#d9d9d9" stroke-width="1.3"/><line x1="1085.9" y1="807.82" x2="1511.9" y2="807.82" stroke="#d9d9d9" stroke-width="1.3"/><g clip-path="url(#c6)"><line x1="1087.47" y1="649.78" x2="1101.37" y2="649.78" stroke="#050505" stroke-width="1.8"/><line x1="1111.46" y1="661.94" x2="1111.46" y2="674.09" stroke="#2a2a2a" stroke-width="1.45"/><rect x="1105.16" y="674.09" width="12.6" height="12.16" fill="#5e92b3" fill-opacity="0.85"/><line x1="1108.36" y1="661.94" x2="1114.56" y2="661.94" stroke="#2a2a2a" stroke-width="1.45" stroke-linecap="square"/><line x1="1108.36" y1="686.25" x2="1114.56" y2="686.25" stroke="#2a2a2a" stroke-width="1.45" stroke-linecap="square"/><line x1="1104.96" y1="686.25" x2="1117.96" y2="686.25" stroke="#050505" stroke-width="1.5"/><line x1="1121.55" y1="503.9" x2="1135.45" y2="503.9" stroke="#050505" stroke-width="1.8"/><rect x="1139.24" y="637.62" width="12.6" height="48.63" fill="#5e92b3" fill-opacity="0.85"/><line x1="1142.44" y1="637.62" x2="1148.64" y2="637.62" stroke="#2a2a2a" stroke-width="1.45" stroke-linecap="square"/><line x1="1142.44" y1="686.25" x2="1148.64" y2="686.25" stroke="#2a2a2a" stroke-width="1.45" stroke-linecap="square"/><line x1="1139.04" y1="674.09" x2="1152.04" y2="674.09" stroke="#050505" stroke-width="1.5"/><line x1="1162.58" y1="601.15" x2="1162.58" y2="613.31" stroke="#2a2a2a" stroke-width="1.45"/><rect x="1156.28" y="613.31" width="12.6" height="12.16" fill="#5e92b3" fill-opacity="0.85"/><line x1="1159.48" y1="601.15" x2="1165.68" y2="601.15" stroke="#2a2a2a" stroke-width="1.45" stroke-linecap="square"/><line x1="1159.48" y1="625.47" x2="1165.68" y2="625.47" stroke="#2a2a2a" stroke-width="1.45" stroke-linecap="square"/><line x1="1156.08" y1="613.31" x2="1169.08" y2="613.31" stroke="#050505" stroke-width="1.5"/><line x1="1179.62" y1="613.31" x2="1179.62" y2="637.62" stroke="#2a2a2a" stroke-width="1.45"/><rect x="1173.32" y="637.62" width="12.6" height="36.47" fill="#5e92b3" fill-opacity="0.85"/><line x1="1176.52" y1="613.31" x2="1182.72" y2="613.31" stroke="#2a2a2a" stroke-width="1.45" stroke-linecap="square"/><line x1="1176.52" y1="674.09" x2="1182.72" y2="674.09" stroke="#2a2a2a" stroke-width="1.45" stroke-linecap="square"/><line x1="1173.12" y1="674.09" x2="1186.12" y2="674.09" stroke="#050505" stroke-width="1.5"/><line x1="1189.71" y1="649.78" x2="1203.61" y2="649.78" stroke="#050505" stroke-width="1.8"/><line x1="1213.7" y1="601.15" x2="1213.7" y2="613.31" stroke="#2a2a2a" stroke-width="1.45"/><line x1="1213.7" y1="649.78" x2="1213.7" y2="686.25" stroke="#2a2a2a" stroke-width="1.45"/><rect x="1207.4" y="613.31" width="12.6" height="36.47" fill="#5e92b3" fill-opacity="0.85"/><line x1="1210.6" y1="601.15" x2="1216.8" y2="601.15" stroke="#2a2a2a" stroke-width="1.45" stroke-linecap="square"/><line x1="1210.6" y1="686.25" x2="1216.8" y2="686.25" stroke="#2a2a2a" stroke-width="1.45" stroke-linecap="square"/><line x1="1207.2" y1="625.47" x2="1220.2" y2="625.47" stroke="#050505" stroke-width="1.5"/><line x1="1223.79" y1="661.94" x2="1237.69" y2="661.94" stroke="#050505" stroke-width="1.8"/><line x1="1247.78" y1="613.31" x2="1247.78" y2="649.78" stroke="#2a2a2a" stroke-width="1.45"/><rect x="1241.48" y="540.37" width="12.6" height="72.94" fill="#5e92b3" fill-opacity="0.85"/><line x1="1244.68" y1="540.37" x2="1250.88" y2="540.37" stroke="#2a2a2a" stroke-width="1.45" stroke-linecap="square"/><line x1="1244.68" y1="649.78" x2="1250.88" y2="649.78" stroke="#2a2a2a" stroke-width="1.45" stroke-linecap="square"/><line x1="1241.28" y1="540.37" x2="1254.28" y2="540.37" stroke="#050505" stroke-width="1.5"/><line x1="1264.82" y1="625.47" x2="1264.82" y2="661.94" stroke="#2a2a2a" stroke-width="1.45"/><rect x="1258.52" y="503.9" width="12.6" height="121.57" fill="#5e92b3" fill-opacity="0.85"/><line x1="1261.72" y1="503.9" x2="1267.92" y2="503.9" stroke="#2a2a2a" stroke-width="1.45" stroke-linecap="square"/><line x1="1261.72" y1="661.94" x2="1267.92" y2="661.94" stroke="#2a2a2a" stroke-width="1.45" stroke-linecap="square"/><line x1="1258.32" y1="503.9" x2="1271.32" y2="503.9" stroke="#050505" stroke-width="1.5"/><line x1="1281.86" y1="564.68" x2="1281.86" y2="576.84" stroke="#2a2a2a" stroke-width="1.45"/><line x1="1281.86" y1="619.39" x2="1281.86" y2="674.09" stroke="#2a2a2a" stroke-width="1.45"/><rect x="1275.56" y="576.84" width="12.6" height="42.55" fill="#5e92b3" fill-opacity="0.85"/><line x1="1278.76" y1="564.68" x2="1284.96" y2="564.68" stroke="#2a2a2a" stroke-width="1.45" stroke-linecap="square"/><line x1="1278.76" y1="674.09" x2="1284.96" y2="674.09" stroke="#2a2a2a" stroke-width="1.45" stroke-linecap="square"/><line x1="1275.36" y1="576.84" x2="1288.36" y2="576.84" stroke="#050505" stroke-width="1.5"/><rect x="1292.6" y="613.31" width="12.6" height="12.16" fill="#5e92b3" fill-opacity="0.85"/><line x1="1295.8" y1="613.31" x2="1302" y2="613.31" stroke="#2a2a2a" stroke-width="1.45" stroke-linecap="square"/><line x1="1295.8" y1="625.47" x2="1302" y2="625.47" stroke="#2a2a2a" stroke-width="1.45" stroke-linecap="square"/><line x1="1292.4" y1="625.47" x2="1305.4" y2="625.47" stroke="#050505" stroke-width="1.5"/><line x1="1315.94" y1="576.84" x2="1315.94" y2="613.31" stroke="#2a2a2a" stroke-width="1.45"/><line x1="1315.94" y1="655.86" x2="1315.94" y2="661.94" stroke="#2a2a2a" stroke-width="1.45"/><rect x="1309.64" y="613.31" width="12.6" height="42.55" fill="#5e92b3" fill-opacity="0.85"/><line x1="1312.84" y1="576.84" x2="1319.04" y2="576.84" stroke="#2a2a2a" stroke-width="1.45" stroke-linecap="square"/><line x1="1312.84" y1="661.94" x2="1319.04" y2="661.94" stroke="#2a2a2a" stroke-width="1.45" stroke-linecap="square"/><line x1="1309.44" y1="625.47" x2="1322.44" y2="625.47" stroke="#050505" stroke-width="1.5"/><line x1="1326.03" y1="576.84" x2="1339.93" y2="576.84" stroke="#050505" stroke-width="1.8"/><line x1="1350.02" y1="540.37" x2="1350.02" y2="552.53" stroke="#2a2a2a" stroke-width="1.45"/><line x1="1350.02" y1="625.47" x2="1350.02" y2="661.94" stroke="#2a2a2a" stroke-width="1.45"/><rect x="1343.72" y="552.53" width="12.6" height="72.94" fill="#5e92b3" fill-opacity="0.85"/><line x1="1346.92" y1="540.37" x2="1353.12" y2="540.37" stroke="#2a2a2a" stroke-width="1.45" stroke-linecap="square"/><line x1="1346.92" y1="661.94" x2="1353.12" y2="661.94" stroke="#2a2a2a" stroke-width="1.45" stroke-linecap="square"/><line x1="1343.52" y1="564.68" x2="1356.52" y2="564.68" stroke="#050505" stroke-width="1.5"/><line x1="1367.06" y1="564.68" x2="1367.06" y2="576.84" stroke="#2a2a2a" stroke-width="1.45"/><line x1="1367.06" y1="589" x2="1367.06" y2="601.15" stroke="#2a2a2a" stroke-width="1.45"/><rect x="1360.76" y="576.84" width="12.6" height="12.16" fill="#5e92b3" fill-opacity="0.85"/><line x1="1363.96" y1="564.68" x2="1370.16" y2="564.68" stroke="#2a2a2a" stroke-width="1.45" stroke-linecap="square"/><line x1="1363.96" y1="601.15" x2="1370.16" y2="601.15" stroke="#2a2a2a" stroke-width="1.45" stroke-linecap="square"/><line x1="1360.56" y1="589" x2="1373.56" y2="589" stroke="#050505" stroke-width="1.5"/><line x1="1377.15" y1="503.9" x2="1391.05" y2="503.9" stroke="#050505" stroke-width="1.8"/><line x1="1401.14" y1="516.06" x2="1401.14" y2="552.53" stroke="#2a2a2a" stroke-width="1.45"/><line x1="1401.14" y1="637.62" x2="1401.14" y2="649.78" stroke="#2a2a2a" stroke-width="1.45"/><rect x="1394.84" y="552.53" width="12.6" height="85.1" fill="#5e92b3" fill-opacity="0.85"/><line x1="1398.04" y1="516.06" x2="1404.24" y2="516.06" stroke="#2a2a2a" stroke-width="1.45" stroke-linecap="square"/><line x1="1398.04" y1="649.78" x2="1404.24" y2="649.78" stroke="#2a2a2a" stroke-width="1.45" stroke-linecap="square"/><line x1="1394.64" y1="601.15" x2="1407.64" y2="601.15" stroke="#050505" stroke-width="1.5"/><line x1="1418.18" y1="564.68" x2="1418.18" y2="589" stroke="#2a2a2a" stroke-width="1.45"/><line x1="1418.18" y1="613.31" x2="1418.18" y2="637.62" stroke="#2a2a2a" stroke-width="1.45"/><rect x="1411.88" y="589" width="12.6" height="24.31" fill="#5e92b3" fill-opacity="0.85"/><line x1="1415.08" y1="564.68" x2="1421.28" y2="564.68" stroke="#2a2a2a" stroke-width="1.45" stroke-linecap="square"/><line x1="1415.08" y1="637.62" x2="1421.28" y2="637.62" stroke="#2a2a2a" stroke-width="1.45" stroke-linecap="square"/><line x1="1411.68" y1="589" x2="1424.68" y2="589" stroke="#050505" stroke-width="1.5"/><line x1="1435.22" y1="637.62" x2="1435.22" y2="674.09" stroke="#2a2a2a" stroke-width="1.45"/><rect x="1428.92" y="564.68" width="12.6" height="72.94" fill="#5e92b3" fill-opacity="0.85"/><line x1="1432.12" y1="564.68" x2="1438.32" y2="564.68" stroke="#2a2a2a" stroke-width="1.45" stroke-linecap="square"/><line x1="1432.12" y1="674.09" x2="1438.32" y2="674.09" stroke="#2a2a2a" stroke-width="1.45" stroke-linecap="square"/><line x1="1428.72" y1="637.62" x2="1441.72" y2="637.62" stroke="#050505" stroke-width="1.5"/><line x1="1452.26" y1="516.06" x2="1452.26" y2="564.68" stroke="#2a2a2a" stroke-width="1.45"/><line x1="1452.26" y1="601.15" x2="1452.26" y2="649.78" stroke="#2a2a2a" stroke-width="1.45"/><rect x="1445.96" y="564.68" width="12.6" height="36.47" fill="#5e92b3" fill-opacity="0.85"/><line x1="1449.16" y1="516.06" x2="1455.36" y2="516.06" stroke="#2a2a2a" stroke-width="1.45" stroke-linecap="square"/><line x1="1449.16" y1="649.78" x2="1455.36" y2="649.78" stroke="#2a2a2a" stroke-width="1.45" stroke-linecap="square"/><line x1="1445.76" y1="576.84" x2="1458.76" y2="576.84" stroke="#050505" stroke-width="1.5"/><line x1="1469.3" y1="540.37" x2="1469.3" y2="564.68" stroke="#2a2a2a" stroke-width="1.45"/><line x1="1469.3" y1="589" x2="1469.3" y2="613.31" stroke="#2a2a2a" stroke-width="1.45"/><rect x="1463" y="564.68" width="12.6" height="24.31" fill="#5e92b3" fill-opacity="0.85"/><line x1="1466.2" y1="540.37" x2="1472.4" y2="540.37" stroke="#2a2a2a" stroke-width="1.45" stroke-linecap="square"/><line x1="1466.2" y1="613.31" x2="1472.4" y2="613.31" stroke="#2a2a2a" stroke-width="1.45" stroke-linecap="square"/><line x1="1462.8" y1="570.76" x2="1475.8" y2="570.76" stroke="#050505" stroke-width="1.5"/><line x1="1486.34" y1="576.84" x2="1486.34" y2="586.57" stroke="#2a2a2a" stroke-width="1.45"/><line x1="1486.34" y1="615.74" x2="1486.34" y2="625.47" stroke="#2a2a2a" stroke-width="1.45"/><rect x="1480.04" y="586.57" width="12.6" height="29.18" fill="#5e92b3" fill-opacity="0.85"/><line x1="1483.24" y1="576.84" x2="1489.44" y2="576.84" stroke="#2a2a2a" stroke-width="1.45" stroke-linecap="square"/><line x1="1483.24" y1="625.47" x2="1489.44" y2="625.47" stroke="#2a2a2a" stroke-width="1.45" stroke-linecap="square"/><line x1="1479.84" y1="601.15" x2="1492.84" y2="601.15" stroke="#050505" stroke-width="1.5"/></g><line x1="1085.9" y1="686.25" x2="1511.9" y2="686.25" stroke="#080808" stroke-width="1.7"/><line x1="1085.9" y1="503.9" x2="1085.9" y2="869.6" stroke="#080808" stroke-width="2"/><line x1="1084.9" y1="868.6" x2="1512.9" y2="868.6" stroke="#080808" stroke-width="2"/><line x1="1077.4" y1="503.9" x2="1085.9" y2="503.9" stroke="#080808" stroke-width="2"/><line x1="1077.4" y1="564.68" x2="1085.9" y2="564.68" stroke="#080808" stroke-width="2"/><line x1="1077.4" y1="625.47" x2="1085.9" y2="625.47" stroke="#080808" stroke-width="2"/><line x1="1077.4" y1="686.25" x2="1085.9" y2="686.25" stroke="#080808" stroke-width="2"/><line x1="1077.4" y1="747.03" x2="1085.9" y2="747.03" stroke="#080808" stroke-width="2"/><line x1="1077.4" y1="807.82" x2="1085.9" y2="807.82" stroke="#080808" stroke-width="2"/><line x1="1077.4" y1="868.6" x2="1085.9" y2="868.6" stroke="#080808" stroke-width="2"/><line x1="1094.42" y1="868.6" x2="1094.42" y2="877.1" stroke="#080808" stroke-width="2"/><text transform="translate(1094.42 903.2) scale(1 1.04)" font-size="28.5" text-anchor="middle">2000</text><line x1="1179.62" y1="868.6" x2="1179.62" y2="877.1" stroke="#080808" stroke-width="2"/><text transform="translate(1179.62 903.2) scale(1 1.04)" font-size="28.5" text-anchor="middle">2005</text><line x1="1264.82" y1="868.6" x2="1264.82" y2="877.1" stroke="#080808" stroke-width="2"/><text transform="translate(1264.82 903.2) scale(1 1.04)" font-size="28.5" text-anchor="middle">2010</text><line x1="1350.02" y1="868.6" x2="1350.02" y2="877.1" stroke="#080808" stroke-width="2"/><text transform="translate(1350.02 903.2) scale(1 1.04)" font-size="28.5" text-anchor="middle">2015</text><line x1="1435.22" y1="868.6" x2="1435.22" y2="877.1" stroke="#080808" stroke-width="2"/><text transform="translate(1435.22 903.2) scale(1 1.04)" font-size="28.5" text-anchor="middle">2020</text><text transform="translate(1298.9 496) scale(1 1.04)" font-size="31.1" text-anchor="middle">Clinical phase I/II</text></g>
<g><line x1="1570.1" y1="503.9" x2="1996.1" y2="503.9" stroke="#d9d9d9" stroke-width="1.3"/><line x1="1570.1" y1="564.68" x2="1996.1" y2="564.68" stroke="#d9d9d9" stroke-width="1.3"/><line x1="1570.1" y1="625.47" x2="1996.1" y2="625.47" stroke="#d9d9d9" stroke-width="1.3"/><line x1="1570.1" y1="747.03" x2="1996.1" y2="747.03" stroke="#d9d9d9" stroke-width="1.3"/><line x1="1570.1" y1="807.82" x2="1996.1" y2="807.82" stroke="#d9d9d9" stroke-width="1.3"/><g clip-path="url(#c7)"><rect x="1589.36" y="589" width="12.6" height="97.25" fill="#5e92b3" fill-opacity="0.85"/><line x1="1592.56" y1="589" x2="1598.76" y2="589" stroke="#2a2a2a" stroke-width="1.45" stroke-linecap="square"/><line x1="1592.56" y1="686.25" x2="1598.76" y2="686.25" stroke="#2a2a2a" stroke-width="1.45" stroke-linecap="square"/><line x1="1589.16" y1="625.47" x2="1602.16" y2="625.47" stroke="#050505" stroke-width="1.5"/><rect x="1606.4" y="661.94" width="12.6" height="24.31" fill="#5e92b3" fill-opacity="0.85"/><line x1="1609.6" y1="661.94" x2="1615.8" y2="661.94" stroke="#2a2a2a" stroke-width="1.45" stroke-linecap="square"/><line x1="1609.6" y1="686.25" x2="1615.8" y2="686.25" stroke="#2a2a2a" stroke-width="1.45" stroke-linecap="square"/><line x1="1606.2" y1="661.94" x2="1619.2" y2="661.94" stroke="#050505" stroke-width="1.5"/><rect x="1623.44" y="649.78" width="12.6" height="24.31" fill="#5e92b3" fill-opacity="0.85"/><line x1="1626.64" y1="649.78" x2="1632.84" y2="649.78" stroke="#2a2a2a" stroke-width="1.45" stroke-linecap="square"/><line x1="1626.64" y1="674.09" x2="1632.84" y2="674.09" stroke="#2a2a2a" stroke-width="1.45" stroke-linecap="square"/><line x1="1623.24" y1="661.94" x2="1636.24" y2="661.94" stroke="#050505" stroke-width="1.5"/><line x1="1646.78" y1="625.47" x2="1646.78" y2="637.62" stroke="#2a2a2a" stroke-width="1.45"/><line x1="1646.78" y1="672.88" x2="1646.78" y2="686.25" stroke="#2a2a2a" stroke-width="1.45"/><rect x="1640.48" y="637.62" width="12.6" height="35.25" fill="#5e92b3" fill-opacity="0.85"/><line x1="1643.68" y1="625.47" x2="1649.88" y2="625.47" stroke="#2a2a2a" stroke-width="1.45" stroke-linecap="square"/><line x1="1643.68" y1="686.25" x2="1649.88" y2="686.25" stroke="#2a2a2a" stroke-width="1.45" stroke-linecap="square"/><line x1="1640.28" y1="637.62" x2="1653.28" y2="637.62" stroke="#050505" stroke-width="1.5"/><line x1="1663.82" y1="649.78" x2="1663.82" y2="661.94" stroke="#2a2a2a" stroke-width="1.45"/><rect x="1657.52" y="661.94" width="12.6" height="24.31" fill="#5e92b3" fill-opacity="0.85"/><line x1="1660.72" y1="649.78" x2="1666.92" y2="649.78" stroke="#2a2a2a" stroke-width="1.45" stroke-linecap="square"/><line x1="1660.72" y1="686.25" x2="1666.92" y2="686.25" stroke="#2a2a2a" stroke-width="1.45" stroke-linecap="square"/><line x1="1657.32" y1="686.25" x2="1670.32" y2="686.25" stroke="#050505" stroke-width="1.5"/><line x1="1673.91" y1="674.09" x2="1687.81" y2="674.09" stroke="#050505" stroke-width="1.8"/><line x1="1690.95" y1="649.78" x2="1704.85" y2="649.78" stroke="#050505" stroke-width="1.8"/><line x1="1714.94" y1="637.62" x2="1714.94" y2="649.78" stroke="#2a2a2a" stroke-width="1.45"/><line x1="1714.94" y1="657.92" x2="1714.94" y2="661.94" stroke="#2a2a2a" stroke-width="1.45"/><rect x="1708.64" y="649.78" width="12.6" height="8.14" fill="#5e92b3" fill-opacity="0.85"/><line x1="1711.84" y1="637.62" x2="1718.04" y2="637.62" stroke="#2a2a2a" stroke-width="1.45" stroke-linecap="square"/><line x1="1711.84" y1="661.94" x2="1718.04" y2="661.94" stroke="#2a2a2a" stroke-width="1.45" stroke-linecap="square"/><line x1="1708.44" y1="649.78" x2="1721.44" y2="649.78" stroke="#050505" stroke-width="1.5"/><line x1="1725.03" y1="637.62" x2="1738.93" y2="637.62" stroke="#050505" stroke-width="1.8"/><line x1="1742.07" y1="601.15" x2="1755.97" y2="601.15" stroke="#050505" stroke-width="1.8"/><line x1="1766.06" y1="637.62" x2="1766.06" y2="649.78" stroke="#2a2a2a" stroke-width="1.45"/><rect x="1759.76" y="625.47" width="12.6" height="12.16" fill="#5e92b3" fill-opacity="0.85"/><line x1="1762.96" y1="625.47" x2="1769.16" y2="625.47" stroke="#2a2a2a" stroke-width="1.45" stroke-linecap="square"/><line x1="1762.96" y1="649.78" x2="1769.16" y2="649.78" stroke="#2a2a2a" stroke-width="1.45" stroke-linecap="square"/><line x1="1759.56" y1="625.47" x2="1772.56" y2="625.47" stroke="#050505" stroke-width="1.5"/><line x1="1783.1" y1="589" x2="1783.1" y2="626.68" stroke="#2a2a2a" stroke-width="1.45"/><rect x="1776.8" y="626.68" width="12.6" height="35.25" fill="#5e92b3" fill-opacity="0.85"/><line x1="1780" y1="589" x2="1786.2" y2="589" stroke="#2a2a2a" stroke-width="1.45" stroke-linecap="square"/><line x1="1780" y1="661.94" x2="1786.2" y2="661.94" stroke="#2a2a2a" stroke-width="1.45" stroke-linecap="square"/><line x1="1776.6" y1="637.62" x2="1789.6" y2="637.62" stroke="#050505" stroke-width="1.5"/><line x1="1800.14" y1="613.31" x2="1800.14" y2="625.47" stroke="#2a2a2a" stroke-width="1.45"/><rect x="1793.84" y="625.47" width="12.6" height="48.63" fill="#5e92b3" fill-opacity="0.85"/><line x1="1797.04" y1="613.31" x2="1803.24" y2="613.31" stroke="#2a2a2a" stroke-width="1.45" stroke-linecap="square"/><line x1="1797.04" y1="674.09" x2="1803.24" y2="674.09" stroke="#2a2a2a" stroke-width="1.45" stroke-linecap="square"/><line x1="1793.64" y1="625.47" x2="1806.64" y2="625.47" stroke="#050505" stroke-width="1.5"/><line x1="1817.18" y1="601.15" x2="1817.18" y2="625.47" stroke="#2a2a2a" stroke-width="1.45"/><line x1="1817.18" y1="661.94" x2="1817.18" y2="686.25" stroke="#2a2a2a" stroke-width="1.45"/><rect x="1810.88" y="625.47" width="12.6" height="36.47" fill="#5e92b3" fill-opacity="0.85"/><line x1="1814.08" y1="601.15" x2="1820.28" y2="601.15" stroke="#2a2a2a" stroke-width="1.45" stroke-linecap="square"/><line x1="1814.08" y1="686.25" x2="1820.28" y2="686.25" stroke="#2a2a2a" stroke-width="1.45" stroke-linecap="square"/><line x1="1810.68" y1="625.47" x2="1823.68" y2="625.47" stroke="#050505" stroke-width="1.5"/><line x1="1834.22" y1="552.53" x2="1834.22" y2="613.31" stroke="#2a2a2a" stroke-width="1.45"/><line x1="1834.22" y1="655.86" x2="1834.22" y2="674.09" stroke="#2a2a2a" stroke-width="1.45"/><rect x="1827.92" y="613.31" width="12.6" height="42.55" fill="#5e92b3" fill-opacity="0.85"/><line x1="1831.12" y1="552.53" x2="1837.32" y2="552.53" stroke="#2a2a2a" stroke-width="1.45" stroke-linecap="square"/><line x1="1831.12" y1="674.09" x2="1837.32" y2="674.09" stroke="#2a2a2a" stroke-width="1.45" stroke-linecap="square"/><line x1="1827.72" y1="649.78" x2="1840.72" y2="649.78" stroke="#050505" stroke-width="1.5"/><line x1="1844.31" y1="661.94" x2="1858.21" y2="661.94" stroke="#050505" stroke-width="1.8"/><line x1="1861.35" y1="576.84" x2="1875.25" y2="576.84" stroke="#050505" stroke-width="1.8"/><line x1="1885.34" y1="589" x2="1885.34" y2="613.31" stroke="#2a2a2a" stroke-width="1.45"/><line x1="1885.34" y1="649.78" x2="1885.34" y2="674.09" stroke="#2a2a2a" stroke-width="1.45"/><rect x="1879.04" y="613.31" width="12.6" height="36.47" fill="#5e92b3" fill-opacity="0.85"/><line x1="1882.24" y1="589" x2="1888.44" y2="589" stroke="#2a2a2a" stroke-width="1.45" stroke-linecap="square"/><line x1="1882.24" y1="674.09" x2="1888.44" y2="674.09" stroke="#2a2a2a" stroke-width="1.45" stroke-linecap="square"/><line x1="1878.84" y1="649.78" x2="1891.84" y2="649.78" stroke="#050505" stroke-width="1.5"/><line x1="1902.38" y1="649.78" x2="1902.38" y2="661.94" stroke="#2a2a2a" stroke-width="1.45"/><rect x="1896.08" y="637.62" width="12.6" height="12.16" fill="#5e92b3" fill-opacity="0.85"/><line x1="1899.28" y1="637.62" x2="1905.48" y2="637.62" stroke="#2a2a2a" stroke-width="1.45" stroke-linecap="square"/><line x1="1899.28" y1="661.94" x2="1905.48" y2="661.94" stroke="#2a2a2a" stroke-width="1.45" stroke-linecap="square"/><line x1="1895.88" y1="649.78" x2="1908.88" y2="649.78" stroke="#050505" stroke-width="1.5"/><line x1="1919.42" y1="613.31" x2="1919.42" y2="638.84" stroke="#2a2a2a" stroke-width="1.45"/><rect x="1913.12" y="638.84" width="12.6" height="47.41" fill="#5e92b3" fill-opacity="0.85"/><line x1="1916.32" y1="613.31" x2="1922.52" y2="613.31" stroke="#2a2a2a" stroke-width="1.45" stroke-linecap="square"/><line x1="1916.32" y1="686.25" x2="1922.52" y2="686.25" stroke="#2a2a2a" stroke-width="1.45" stroke-linecap="square"/><line x1="1912.92" y1="649.78" x2="1925.92" y2="649.78" stroke="#050505" stroke-width="1.5"/><line x1="1936.46" y1="589" x2="1936.46" y2="601.15" stroke="#2a2a2a" stroke-width="1.45"/><line x1="1936.46" y1="649.78" x2="1936.46" y2="686.25" stroke="#2a2a2a" stroke-width="1.45"/><rect x="1930.16" y="601.15" width="12.6" height="48.63" fill="#5e92b3" fill-opacity="0.85"/><line x1="1933.36" y1="589" x2="1939.56" y2="589" stroke="#2a2a2a" stroke-width="1.45" stroke-linecap="square"/><line x1="1933.36" y1="686.25" x2="1939.56" y2="686.25" stroke="#2a2a2a" stroke-width="1.45" stroke-linecap="square"/><line x1="1929.96" y1="637.62" x2="1942.96" y2="637.62" stroke="#050505" stroke-width="1.5"/><line x1="1946.55" y1="637.62" x2="1960.45" y2="637.62" stroke="#050505" stroke-width="1.8"/><line x1="1970.54" y1="601.15" x2="1970.54" y2="619.39" stroke="#2a2a2a" stroke-width="1.45"/><line x1="1970.54" y1="655.86" x2="1970.54" y2="674.09" stroke="#2a2a2a" stroke-width="1.45"/><rect x="1964.24" y="619.39" width="12.6" height="36.47" fill="#5e92b3" fill-opacity="0.85"/><line x1="1967.44" y1="601.15" x2="1973.64" y2="601.15" stroke="#2a2a2a" stroke-width="1.45" stroke-linecap="square"/><line x1="1967.44" y1="674.09" x2="1973.64" y2="674.09" stroke="#2a2a2a" stroke-width="1.45" stroke-linecap="square"/><line x1="1964.04" y1="637.62" x2="1977.04" y2="637.62" stroke="#050505" stroke-width="1.5"/></g><line x1="1570.1" y1="686.25" x2="1996.1" y2="686.25" stroke="#080808" stroke-width="1.7"/><line x1="1570.1" y1="503.9" x2="1570.1" y2="869.6" stroke="#080808" stroke-width="2"/><line x1="1569.1" y1="868.6" x2="1997.1" y2="868.6" stroke="#080808" stroke-width="2"/><line x1="1561.6" y1="503.9" x2="1570.1" y2="503.9" stroke="#080808" stroke-width="2"/><line x1="1561.6" y1="564.68" x2="1570.1" y2="564.68" stroke="#080808" stroke-width="2"/><line x1="1561.6" y1="625.47" x2="1570.1" y2="625.47" stroke="#080808" stroke-width="2"/><line x1="1561.6" y1="686.25" x2="1570.1" y2="686.25" stroke="#080808" stroke-width="2"/><line x1="1561.6" y1="747.03" x2="1570.1" y2="747.03" stroke="#080808" stroke-width="2"/><line x1="1561.6" y1="807.82" x2="1570.1" y2="807.82" stroke="#080808" stroke-width="2"/><line x1="1561.6" y1="868.6" x2="1570.1" y2="868.6" stroke="#080808" stroke-width="2"/><line x1="1578.62" y1="868.6" x2="1578.62" y2="877.1" stroke="#080808" stroke-width="2"/><text transform="translate(1578.62 903.2) scale(1 1.04)" font-size="28.5" text-anchor="middle">2000</text><line x1="1663.82" y1="868.6" x2="1663.82" y2="877.1" stroke="#080808" stroke-width="2"/><text transform="translate(1663.82 903.2) scale(1 1.04)" font-size="28.5" text-anchor="middle">2005</text><line x1="1749.02" y1="868.6" x2="1749.02" y2="877.1" stroke="#080808" stroke-width="2"/><text transform="translate(1749.02 903.2) scale(1 1.04)" font-size="28.5" text-anchor="middle">2010</text><line x1="1834.22" y1="868.6" x2="1834.22" y2="877.1" stroke="#080808" stroke-width="2"/><text transform="translate(1834.22 903.2) scale(1 1.04)" font-size="28.5" text-anchor="middle">2015</text><line x1="1919.42" y1="868.6" x2="1919.42" y2="877.1" stroke="#080808" stroke-width="2"/><text transform="translate(1919.42 903.2) scale(1 1.04)" font-size="28.5" text-anchor="middle">2020</text><text transform="translate(1783.1 496) scale(1 1.04)" font-size="31.1" text-anchor="middle">Clinical phase III</text></g>
<text transform="translate(996.5 955.7) scale(1 1.04)" font-size="28.9" text-anchor="middle">Drug approval year</text>
<text transform="translate(23.8 487.5) rotate(-90) scale(1 1.04)" font-size="28.9" text-anchor="middle">Peak year - Approval year</text>
</svg></body></html>
